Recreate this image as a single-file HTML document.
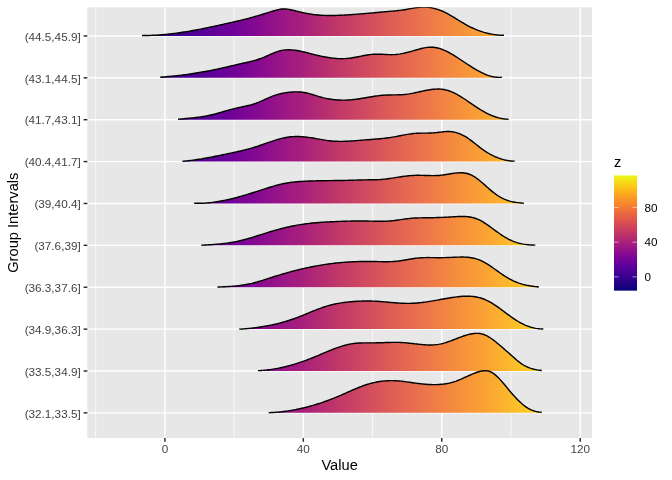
<!DOCTYPE html>
<html lang="en"><head><meta charset="utf-8"><title>Ridgeline plot</title>
<style>html,body{margin:0;padding:0;background:#fff}svg{display:block}text{font-family:"Liberation Sans",Arial,Helvetica,sans-serif}</style></head><body>
<svg width="672" height="480" viewBox="0 0 672 480">
<defs>
<linearGradient id="pg" gradientUnits="userSpaceOnUse" x1="111.37" y1="0" x2="570.99" y2="0"><stop offset="0.0000" stop-color="#070375"/><stop offset="0.0417" stop-color="#190280"/><stop offset="0.0833" stop-color="#2A028A"/><stop offset="0.1250" stop-color="#3B0191"/><stop offset="0.1667" stop-color="#4A0096"/><stop offset="0.2083" stop-color="#5B0099"/><stop offset="0.2500" stop-color="#6C0199"/><stop offset="0.2917" stop-color="#7B0595"/><stop offset="0.3333" stop-color="#8C0D8E"/><stop offset="0.3750" stop-color="#9B1785"/><stop offset="0.4167" stop-color="#A8207B"/><stop offset="0.4583" stop-color="#B62C71"/><stop offset="0.5000" stop-color="#C23A68"/><stop offset="0.5417" stop-color="#CD4761"/><stop offset="0.5833" stop-color="#D8555A"/><stop offset="0.6250" stop-color="#E16354"/><stop offset="0.6667" stop-color="#E9704E"/><stop offset="0.7083" stop-color="#F07E46"/><stop offset="0.7500" stop-color="#F58D3E"/><stop offset="0.7917" stop-color="#F99B37"/><stop offset="0.8333" stop-color="#FBAB30"/><stop offset="0.8750" stop-color="#FBBD2A"/><stop offset="0.9167" stop-color="#F9CF28"/><stop offset="0.9583" stop-color="#F3E329"/><stop offset="1.0000" stop-color="#ECF626"/></linearGradient>
<linearGradient id="lg" x1="0" y1="1" x2="0" y2="0"><stop offset="0.0000" stop-color="#070375"/><stop offset="0.0417" stop-color="#190280"/><stop offset="0.0833" stop-color="#2A028A"/><stop offset="0.1250" stop-color="#3B0191"/><stop offset="0.1667" stop-color="#4A0096"/><stop offset="0.2083" stop-color="#5B0099"/><stop offset="0.2500" stop-color="#6C0199"/><stop offset="0.2917" stop-color="#7B0595"/><stop offset="0.3333" stop-color="#8C0D8E"/><stop offset="0.3750" stop-color="#9B1785"/><stop offset="0.4167" stop-color="#A8207B"/><stop offset="0.4583" stop-color="#B52B70"/><stop offset="0.5000" stop-color="#C23665"/><stop offset="0.5417" stop-color="#CC405C"/><stop offset="0.5833" stop-color="#D74D52"/><stop offset="0.6250" stop-color="#E15A49"/><stop offset="0.6667" stop-color="#E96641"/><stop offset="0.7083" stop-color="#F17538"/><stop offset="0.7500" stop-color="#F7852F"/><stop offset="0.7917" stop-color="#FB9428"/><stop offset="0.8333" stop-color="#FDA620"/><stop offset="0.8750" stop-color="#FDBA1A"/><stop offset="0.9167" stop-color="#FACD18"/><stop offset="0.9583" stop-color="#F4E319"/><stop offset="1.0000" stop-color="#ECF715"/></linearGradient>
<clipPath id="cp"><rect x="87.3" y="7.3" width="504.7" height="430.8"/></clipPath>
</defs>
<rect width="672" height="480" fill="#fff"/>
<rect x="87.3" y="7.3" width="504.7" height="430.8" fill="#E7E7E7"/>
<g clip-path="url(#cp)">
<line x1="95.68" x2="95.68" y1="7.3" y2="438.1" stroke="#fff" stroke-width="0.71"/>
<line x1="234.12" x2="234.12" y1="7.3" y2="438.1" stroke="#fff" stroke-width="0.71"/>
<line x1="372.56" x2="372.56" y1="7.3" y2="438.1" stroke="#fff" stroke-width="0.71"/>
<line x1="511.00" x2="511.00" y1="7.3" y2="438.1" stroke="#fff" stroke-width="0.71"/>
<line x1="164.90" x2="164.90" y1="7.3" y2="438.1" stroke="#fff" stroke-width="1.42"/>
<line x1="303.34" x2="303.34" y1="7.3" y2="438.1" stroke="#fff" stroke-width="1.42"/>
<line x1="441.78" x2="441.78" y1="7.3" y2="438.1" stroke="#fff" stroke-width="1.42"/>
<line x1="580.22" x2="580.22" y1="7.3" y2="438.1" stroke="#fff" stroke-width="1.42"/>
<line x1="87.3" x2="592.0" y1="35.95" y2="35.95" stroke="#fff" stroke-width="1.42"/>
<line x1="87.3" x2="592.0" y1="77.83" y2="77.83" stroke="#fff" stroke-width="1.42"/>
<line x1="87.3" x2="592.0" y1="119.71" y2="119.71" stroke="#fff" stroke-width="1.42"/>
<line x1="87.3" x2="592.0" y1="161.59" y2="161.59" stroke="#fff" stroke-width="1.42"/>
<line x1="87.3" x2="592.0" y1="203.47" y2="203.47" stroke="#fff" stroke-width="1.42"/>
<line x1="87.3" x2="592.0" y1="245.35" y2="245.35" stroke="#fff" stroke-width="1.42"/>
<line x1="87.3" x2="592.0" y1="287.23" y2="287.23" stroke="#fff" stroke-width="1.42"/>
<line x1="87.3" x2="592.0" y1="329.11" y2="329.11" stroke="#fff" stroke-width="1.42"/>
<line x1="87.3" x2="592.0" y1="370.99" y2="370.99" stroke="#fff" stroke-width="1.42"/>
<line x1="87.3" x2="592.0" y1="412.87" y2="412.87" stroke="#fff" stroke-width="1.42"/>
<path d="M142.0,35.48 L143.5,35.49 L145.0,35.49 L146.5,35.48 L148.0,35.46 L149.5,35.43 L151.0,35.38 L152.5,35.33 L154.0,35.26 L155.5,35.19 L157.0,35.10 L158.5,35.01 L160.0,34.90 L161.5,34.79 L163.0,34.66 L164.5,34.53 L166.0,34.39 L167.5,34.24 L169.0,34.08 L170.5,33.91 L172.0,33.74 L173.5,33.56 L175.0,33.37 L176.5,33.17 L178.0,32.96 L179.5,32.75 L181.0,32.53 L182.5,32.30 L184.0,32.07 L185.5,31.83 L187.0,31.58 L188.5,31.33 L190.0,31.08 L191.5,30.81 L193.0,30.54 L194.5,30.27 L196.0,29.99 L197.5,29.71 L199.0,29.42 L200.5,29.13 L202.0,28.83 L203.5,28.53 L205.0,28.23 L206.5,27.92 L208.0,27.61 L209.5,27.30 L211.0,26.98 L212.5,26.66 L214.0,26.33 L215.5,26.01 L217.0,25.68 L218.5,25.35 L220.0,25.02 L221.5,24.69 L223.0,24.35 L224.5,24.01 L226.0,23.68 L227.5,23.34 L229.0,23.00 L230.5,22.66 L232.0,22.32 L233.5,21.98 L235.0,21.64 L236.5,21.29 L238.0,20.94 L239.5,20.59 L241.0,20.23 L242.5,19.87 L244.0,19.50 L245.5,19.13 L247.0,18.74 L248.5,18.35 L250.0,17.96 L251.5,17.55 L253.0,17.13 L254.5,16.71 L256.0,16.27 L257.5,15.83 L259.0,15.38 L260.5,14.93 L262.0,14.47 L263.5,14.01 L265.0,13.55 L266.5,13.08 L268.0,12.62 L269.5,12.15 L271.0,11.69 L272.5,11.23 L274.0,10.78 L275.5,10.34 L277.0,9.94 L278.5,9.59 L280.0,9.29 L281.5,9.07 L283.0,8.93 L284.5,8.90 L286.0,8.97 L287.5,9.14 L289.0,9.40 L290.5,9.71 L292.0,10.06 L293.5,10.42 L295.0,10.78 L296.5,11.14 L298.0,11.50 L299.5,11.85 L301.0,12.20 L302.5,12.54 L304.0,12.87 L305.5,13.19 L307.0,13.48 L308.5,13.76 L310.0,14.01 L311.5,14.24 L313.0,14.44 L314.5,14.63 L316.0,14.79 L317.5,14.94 L319.0,15.07 L320.5,15.18 L322.0,15.27 L323.5,15.34 L325.0,15.40 L326.5,15.44 L328.0,15.47 L329.5,15.48 L331.0,15.49 L332.5,15.48 L334.0,15.46 L335.5,15.42 L337.0,15.38 L338.5,15.33 L340.0,15.27 L341.5,15.20 L343.0,15.13 L344.5,15.05 L346.0,14.96 L347.5,14.87 L349.0,14.78 L350.5,14.68 L352.0,14.58 L353.5,14.47 L355.0,14.36 L356.5,14.25 L358.0,14.13 L359.5,14.01 L361.0,13.89 L362.5,13.77 L364.0,13.64 L365.5,13.51 L367.0,13.38 L368.5,13.25 L370.0,13.12 L371.5,12.98 L373.0,12.85 L374.5,12.71 L376.0,12.58 L377.5,12.44 L379.0,12.31 L380.5,12.17 L382.0,12.04 L383.5,11.90 L385.0,11.77 L386.5,11.64 L388.0,11.51 L389.5,11.38 L391.0,11.26 L392.5,11.12 L394.0,10.99 L395.5,10.84 L397.0,10.69 L398.5,10.52 L400.0,10.34 L401.5,10.14 L403.0,9.93 L404.5,9.70 L406.0,9.45 L407.5,9.19 L409.0,8.91 L410.5,8.64 L412.0,8.37 L413.5,8.11 L415.0,7.87 L416.5,7.65 L418.0,7.46 L419.5,7.30 L421.0,7.17 L422.5,7.10 L424.0,7.07 L425.5,7.10 L427.0,7.19 L428.5,7.33 L430.0,7.53 L431.5,7.78 L433.0,8.08 L434.5,8.44 L436.0,8.85 L437.5,9.32 L439.0,9.83 L440.5,10.40 L442.0,11.02 L443.5,11.68 L445.0,12.40 L446.5,13.16 L448.0,13.97 L449.5,14.80 L451.0,15.67 L452.5,16.56 L454.0,17.47 L455.5,18.39 L457.0,19.31 L458.5,20.24 L460.0,21.16 L461.5,22.07 L463.0,22.97 L464.5,23.84 L466.0,24.69 L467.5,25.51 L469.0,26.29 L470.5,27.04 L472.0,27.76 L473.5,28.44 L475.0,29.09 L476.5,29.71 L478.0,30.30 L479.5,30.85 L481.0,31.37 L482.5,31.86 L484.0,32.32 L485.5,32.74 L487.0,33.13 L488.5,33.49 L490.0,33.82 L491.5,34.11 L493.0,34.37 L494.5,34.60 L496.0,34.80 L497.5,34.96 L499.0,35.10 L500.5,35.19 L502.0,35.26 L503.5,35.30 L504.0,35.30 L504.0,35.95 L142.0,35.95 Z" fill="url(#pg)" fill-opacity="1" stroke="none"/>
<path d="M142.0,35.48 L143.5,35.49 L145.0,35.49 L146.5,35.48 L148.0,35.46 L149.5,35.43 L151.0,35.38 L152.5,35.33 L154.0,35.26 L155.5,35.19 L157.0,35.10 L158.5,35.01 L160.0,34.90 L161.5,34.79 L163.0,34.66 L164.5,34.53 L166.0,34.39 L167.5,34.24 L169.0,34.08 L170.5,33.91 L172.0,33.74 L173.5,33.56 L175.0,33.37 L176.5,33.17 L178.0,32.96 L179.5,32.75 L181.0,32.53 L182.5,32.30 L184.0,32.07 L185.5,31.83 L187.0,31.58 L188.5,31.33 L190.0,31.08 L191.5,30.81 L193.0,30.54 L194.5,30.27 L196.0,29.99 L197.5,29.71 L199.0,29.42 L200.5,29.13 L202.0,28.83 L203.5,28.53 L205.0,28.23 L206.5,27.92 L208.0,27.61 L209.5,27.30 L211.0,26.98 L212.5,26.66 L214.0,26.33 L215.5,26.01 L217.0,25.68 L218.5,25.35 L220.0,25.02 L221.5,24.69 L223.0,24.35 L224.5,24.01 L226.0,23.68 L227.5,23.34 L229.0,23.00 L230.5,22.66 L232.0,22.32 L233.5,21.98 L235.0,21.64 L236.5,21.29 L238.0,20.94 L239.5,20.59 L241.0,20.23 L242.5,19.87 L244.0,19.50 L245.5,19.13 L247.0,18.74 L248.5,18.35 L250.0,17.96 L251.5,17.55 L253.0,17.13 L254.5,16.71 L256.0,16.27 L257.5,15.83 L259.0,15.38 L260.5,14.93 L262.0,14.47 L263.5,14.01 L265.0,13.55 L266.5,13.08 L268.0,12.62 L269.5,12.15 L271.0,11.69 L272.5,11.23 L274.0,10.78 L275.5,10.34 L277.0,9.94 L278.5,9.59 L280.0,9.29 L281.5,9.07 L283.0,8.93 L284.5,8.90 L286.0,8.97 L287.5,9.14 L289.0,9.40 L290.5,9.71 L292.0,10.06 L293.5,10.42 L295.0,10.78 L296.5,11.14 L298.0,11.50 L299.5,11.85 L301.0,12.20 L302.5,12.54 L304.0,12.87 L305.5,13.19 L307.0,13.48 L308.5,13.76 L310.0,14.01 L311.5,14.24 L313.0,14.44 L314.5,14.63 L316.0,14.79 L317.5,14.94 L319.0,15.07 L320.5,15.18 L322.0,15.27 L323.5,15.34 L325.0,15.40 L326.5,15.44 L328.0,15.47 L329.5,15.48 L331.0,15.49 L332.5,15.48 L334.0,15.46 L335.5,15.42 L337.0,15.38 L338.5,15.33 L340.0,15.27 L341.5,15.20 L343.0,15.13 L344.5,15.05 L346.0,14.96 L347.5,14.87 L349.0,14.78 L350.5,14.68 L352.0,14.58 L353.5,14.47 L355.0,14.36 L356.5,14.25 L358.0,14.13 L359.5,14.01 L361.0,13.89 L362.5,13.77 L364.0,13.64 L365.5,13.51 L367.0,13.38 L368.5,13.25 L370.0,13.12 L371.5,12.98 L373.0,12.85 L374.5,12.71 L376.0,12.58 L377.5,12.44 L379.0,12.31 L380.5,12.17 L382.0,12.04 L383.5,11.90 L385.0,11.77 L386.5,11.64 L388.0,11.51 L389.5,11.38 L391.0,11.26 L392.5,11.12 L394.0,10.99 L395.5,10.84 L397.0,10.69 L398.5,10.52 L400.0,10.34 L401.5,10.14 L403.0,9.93 L404.5,9.70 L406.0,9.45 L407.5,9.19 L409.0,8.91 L410.5,8.64 L412.0,8.37 L413.5,8.11 L415.0,7.87 L416.5,7.65 L418.0,7.46 L419.5,7.30 L421.0,7.17 L422.5,7.10 L424.0,7.07 L425.5,7.10 L427.0,7.19 L428.5,7.33 L430.0,7.53 L431.5,7.78 L433.0,8.08 L434.5,8.44 L436.0,8.85 L437.5,9.32 L439.0,9.83 L440.5,10.40 L442.0,11.02 L443.5,11.68 L445.0,12.40 L446.5,13.16 L448.0,13.97 L449.5,14.80 L451.0,15.67 L452.5,16.56 L454.0,17.47 L455.5,18.39 L457.0,19.31 L458.5,20.24 L460.0,21.16 L461.5,22.07 L463.0,22.97 L464.5,23.84 L466.0,24.69 L467.5,25.51 L469.0,26.29 L470.5,27.04 L472.0,27.76 L473.5,28.44 L475.0,29.09 L476.5,29.71 L478.0,30.30 L479.5,30.85 L481.0,31.37 L482.5,31.86 L484.0,32.32 L485.5,32.74 L487.0,33.13 L488.5,33.49 L490.0,33.82 L491.5,34.11 L493.0,34.37 L494.5,34.60 L496.0,34.80 L497.5,34.96 L499.0,35.10 L500.5,35.19 L502.0,35.26 L503.5,35.30 L504.0,35.30" fill="none" stroke="#000" stroke-width="1.42" stroke-linejoin="round" stroke-linecap="butt"/>
<path d="M160.3,77.20 L161.8,77.08 L163.3,76.96 L164.8,76.84 L166.3,76.71 L167.8,76.58 L169.3,76.44 L170.8,76.30 L172.3,76.15 L173.8,76.00 L175.3,75.84 L176.8,75.68 L178.3,75.51 L179.8,75.34 L181.3,75.16 L182.8,74.97 L184.3,74.78 L185.8,74.59 L187.3,74.39 L188.8,74.18 L190.3,73.97 L191.8,73.75 L193.3,73.53 L194.8,73.30 L196.3,73.06 L197.8,72.82 L199.3,72.57 L200.8,72.32 L202.3,72.06 L203.8,71.79 L205.3,71.52 L206.8,71.24 L208.3,70.96 L209.8,70.66 L211.3,70.37 L212.8,70.06 L214.3,69.75 L215.8,69.43 L217.3,69.10 L218.8,68.77 L220.3,68.44 L221.8,68.10 L223.3,67.76 L224.8,67.42 L226.3,67.07 L227.8,66.72 L229.3,66.37 L230.8,66.02 L232.3,65.68 L233.8,65.33 L235.3,64.98 L236.8,64.64 L238.3,64.30 L239.8,63.96 L241.3,63.62 L242.8,63.29 L244.3,62.97 L245.8,62.64 L247.3,62.30 L248.8,61.96 L250.3,61.61 L251.8,61.24 L253.3,60.85 L254.8,60.44 L256.3,60.01 L257.8,59.54 L259.3,59.04 L260.8,58.51 L262.3,57.94 L263.8,57.33 L265.3,56.69 L266.8,56.02 L268.3,55.35 L269.8,54.67 L271.3,54.01 L272.8,53.36 L274.3,52.74 L275.8,52.16 L277.3,51.63 L278.8,51.16 L280.3,50.75 L281.8,50.42 L283.3,50.16 L284.8,49.98 L286.3,49.86 L287.8,49.80 L289.3,49.79 L290.8,49.84 L292.3,49.94 L293.8,50.09 L295.3,50.28 L296.8,50.50 L298.3,50.76 L299.8,51.05 L301.3,51.36 L302.8,51.70 L304.3,52.05 L305.8,52.42 L307.3,52.80 L308.8,53.19 L310.3,53.58 L311.8,53.97 L313.3,54.36 L314.8,54.73 L316.3,55.10 L317.8,55.46 L319.3,55.81 L320.8,56.14 L322.3,56.45 L323.8,56.76 L325.3,57.04 L326.8,57.31 L328.3,57.55 L329.8,57.78 L331.3,57.98 L332.8,58.16 L334.3,58.31 L335.8,58.44 L337.3,58.55 L338.8,58.62 L340.3,58.66 L341.8,58.68 L343.3,58.66 L344.8,58.61 L346.3,58.52 L347.8,58.40 L349.3,58.24 L350.8,58.05 L352.3,57.82 L353.8,57.57 L355.3,57.30 L356.8,57.01 L358.3,56.72 L359.8,56.42 L361.3,56.11 L362.8,55.82 L364.3,55.53 L365.8,55.26 L367.3,55.00 L368.8,54.77 L370.3,54.58 L371.8,54.41 L373.3,54.29 L374.8,54.21 L376.3,54.18 L377.8,54.18 L379.3,54.21 L380.8,54.26 L382.3,54.33 L383.8,54.41 L385.3,54.49 L386.8,54.56 L388.3,54.62 L389.8,54.66 L391.3,54.67 L392.8,54.65 L394.3,54.59 L395.8,54.48 L397.3,54.33 L398.8,54.14 L400.3,53.91 L401.8,53.64 L403.3,53.35 L404.8,53.03 L406.3,52.68 L407.8,52.31 L409.3,51.92 L410.8,51.51 L412.3,51.09 L413.8,50.66 L415.3,50.23 L416.8,49.79 L418.3,49.36 L419.8,48.95 L421.3,48.56 L422.8,48.21 L424.3,47.89 L425.8,47.62 L427.3,47.41 L428.8,47.26 L430.3,47.18 L431.8,47.18 L433.3,47.27 L434.8,47.44 L436.3,47.70 L437.8,48.03 L439.3,48.44 L440.8,48.92 L442.3,49.46 L443.8,50.06 L445.3,50.72 L446.8,51.43 L448.3,52.20 L449.8,53.00 L451.3,53.84 L452.8,54.72 L454.3,55.63 L455.8,56.56 L457.3,57.52 L458.8,58.50 L460.3,59.48 L461.8,60.48 L463.3,61.48 L464.8,62.49 L466.3,63.48 L467.8,64.47 L469.3,65.45 L470.8,66.42 L472.3,67.36 L473.8,68.29 L475.3,69.18 L476.8,70.05 L478.3,70.89 L479.8,71.69 L481.3,72.46 L482.8,73.18 L484.3,73.86 L485.8,74.48 L487.3,75.06 L488.8,75.58 L490.3,76.04 L491.8,76.44 L493.3,76.77 L494.8,77.03 L496.3,77.22 L497.8,77.33 L499.3,77.37 L500.8,77.32 L501.8,77.24 L501.8,77.83 L160.3,77.83 Z" fill="url(#pg)" fill-opacity="1" stroke="none"/>
<path d="M160.3,77.20 L161.8,77.08 L163.3,76.96 L164.8,76.84 L166.3,76.71 L167.8,76.58 L169.3,76.44 L170.8,76.30 L172.3,76.15 L173.8,76.00 L175.3,75.84 L176.8,75.68 L178.3,75.51 L179.8,75.34 L181.3,75.16 L182.8,74.97 L184.3,74.78 L185.8,74.59 L187.3,74.39 L188.8,74.18 L190.3,73.97 L191.8,73.75 L193.3,73.53 L194.8,73.30 L196.3,73.06 L197.8,72.82 L199.3,72.57 L200.8,72.32 L202.3,72.06 L203.8,71.79 L205.3,71.52 L206.8,71.24 L208.3,70.96 L209.8,70.66 L211.3,70.37 L212.8,70.06 L214.3,69.75 L215.8,69.43 L217.3,69.10 L218.8,68.77 L220.3,68.44 L221.8,68.10 L223.3,67.76 L224.8,67.42 L226.3,67.07 L227.8,66.72 L229.3,66.37 L230.8,66.02 L232.3,65.68 L233.8,65.33 L235.3,64.98 L236.8,64.64 L238.3,64.30 L239.8,63.96 L241.3,63.62 L242.8,63.29 L244.3,62.97 L245.8,62.64 L247.3,62.30 L248.8,61.96 L250.3,61.61 L251.8,61.24 L253.3,60.85 L254.8,60.44 L256.3,60.01 L257.8,59.54 L259.3,59.04 L260.8,58.51 L262.3,57.94 L263.8,57.33 L265.3,56.69 L266.8,56.02 L268.3,55.35 L269.8,54.67 L271.3,54.01 L272.8,53.36 L274.3,52.74 L275.8,52.16 L277.3,51.63 L278.8,51.16 L280.3,50.75 L281.8,50.42 L283.3,50.16 L284.8,49.98 L286.3,49.86 L287.8,49.80 L289.3,49.79 L290.8,49.84 L292.3,49.94 L293.8,50.09 L295.3,50.28 L296.8,50.50 L298.3,50.76 L299.8,51.05 L301.3,51.36 L302.8,51.70 L304.3,52.05 L305.8,52.42 L307.3,52.80 L308.8,53.19 L310.3,53.58 L311.8,53.97 L313.3,54.36 L314.8,54.73 L316.3,55.10 L317.8,55.46 L319.3,55.81 L320.8,56.14 L322.3,56.45 L323.8,56.76 L325.3,57.04 L326.8,57.31 L328.3,57.55 L329.8,57.78 L331.3,57.98 L332.8,58.16 L334.3,58.31 L335.8,58.44 L337.3,58.55 L338.8,58.62 L340.3,58.66 L341.8,58.68 L343.3,58.66 L344.8,58.61 L346.3,58.52 L347.8,58.40 L349.3,58.24 L350.8,58.05 L352.3,57.82 L353.8,57.57 L355.3,57.30 L356.8,57.01 L358.3,56.72 L359.8,56.42 L361.3,56.11 L362.8,55.82 L364.3,55.53 L365.8,55.26 L367.3,55.00 L368.8,54.77 L370.3,54.58 L371.8,54.41 L373.3,54.29 L374.8,54.21 L376.3,54.18 L377.8,54.18 L379.3,54.21 L380.8,54.26 L382.3,54.33 L383.8,54.41 L385.3,54.49 L386.8,54.56 L388.3,54.62 L389.8,54.66 L391.3,54.67 L392.8,54.65 L394.3,54.59 L395.8,54.48 L397.3,54.33 L398.8,54.14 L400.3,53.91 L401.8,53.64 L403.3,53.35 L404.8,53.03 L406.3,52.68 L407.8,52.31 L409.3,51.92 L410.8,51.51 L412.3,51.09 L413.8,50.66 L415.3,50.23 L416.8,49.79 L418.3,49.36 L419.8,48.95 L421.3,48.56 L422.8,48.21 L424.3,47.89 L425.8,47.62 L427.3,47.41 L428.8,47.26 L430.3,47.18 L431.8,47.18 L433.3,47.27 L434.8,47.44 L436.3,47.70 L437.8,48.03 L439.3,48.44 L440.8,48.92 L442.3,49.46 L443.8,50.06 L445.3,50.72 L446.8,51.43 L448.3,52.20 L449.8,53.00 L451.3,53.84 L452.8,54.72 L454.3,55.63 L455.8,56.56 L457.3,57.52 L458.8,58.50 L460.3,59.48 L461.8,60.48 L463.3,61.48 L464.8,62.49 L466.3,63.48 L467.8,64.47 L469.3,65.45 L470.8,66.42 L472.3,67.36 L473.8,68.29 L475.3,69.18 L476.8,70.05 L478.3,70.89 L479.8,71.69 L481.3,72.46 L482.8,73.18 L484.3,73.86 L485.8,74.48 L487.3,75.06 L488.8,75.58 L490.3,76.04 L491.8,76.44 L493.3,76.77 L494.8,77.03 L496.3,77.22 L497.8,77.33 L499.3,77.37 L500.8,77.32 L501.8,77.24" fill="none" stroke="#000" stroke-width="1.42" stroke-linejoin="round" stroke-linecap="butt"/>
<path d="M178.0,119.30 L179.5,119.15 L181.0,119.00 L182.5,118.86 L184.0,118.72 L185.5,118.58 L187.0,118.44 L188.5,118.29 L190.0,118.15 L191.5,118.00 L193.0,117.84 L194.5,117.68 L196.0,117.50 L197.5,117.32 L199.0,117.12 L200.5,116.91 L202.0,116.69 L203.5,116.45 L205.0,116.19 L206.5,115.92 L208.0,115.62 L209.5,115.31 L211.0,114.97 L212.5,114.60 L214.0,114.22 L215.5,113.83 L217.0,113.42 L218.5,113.00 L220.0,112.58 L221.5,112.15 L223.0,111.72 L224.5,111.29 L226.0,110.87 L227.5,110.45 L229.0,110.05 L230.5,109.65 L232.0,109.26 L233.5,108.88 L235.0,108.51 L236.5,108.15 L238.0,107.79 L239.5,107.45 L241.0,107.11 L242.5,106.77 L244.0,106.44 L245.5,106.12 L247.0,105.79 L248.5,105.45 L250.0,105.09 L251.5,104.70 L253.0,104.27 L254.5,103.80 L256.0,103.28 L257.5,102.71 L259.0,102.10 L260.5,101.45 L262.0,100.79 L263.5,100.11 L265.0,99.42 L266.5,98.74 L268.0,98.07 L269.5,97.41 L271.0,96.79 L272.5,96.20 L274.0,95.65 L275.5,95.14 L277.0,94.68 L278.5,94.25 L280.0,93.86 L281.5,93.50 L283.0,93.18 L284.5,92.90 L286.0,92.65 L287.5,92.43 L289.0,92.25 L290.5,92.10 L292.0,91.98 L293.5,91.89 L295.0,91.85 L296.5,91.84 L298.0,91.87 L299.5,91.95 L301.0,92.07 L302.5,92.24 L304.0,92.46 L305.5,92.73 L307.0,93.06 L308.5,93.42 L310.0,93.83 L311.5,94.26 L313.0,94.71 L314.5,95.18 L316.0,95.65 L317.5,96.12 L319.0,96.58 L320.5,97.02 L322.0,97.44 L323.5,97.83 L325.0,98.18 L326.5,98.51 L328.0,98.80 L329.5,99.06 L331.0,99.29 L332.5,99.49 L334.0,99.67 L335.5,99.81 L337.0,99.93 L338.5,100.02 L340.0,100.08 L341.5,100.12 L343.0,100.13 L344.5,100.12 L346.0,100.09 L347.5,100.03 L349.0,99.94 L350.5,99.84 L352.0,99.71 L353.5,99.56 L355.0,99.40 L356.5,99.21 L358.0,99.00 L359.5,98.78 L361.0,98.54 L362.5,98.30 L364.0,98.05 L365.5,97.79 L367.0,97.53 L368.5,97.26 L370.0,97.01 L371.5,96.75 L373.0,96.50 L374.5,96.27 L376.0,96.04 L377.5,95.83 L379.0,95.64 L380.5,95.47 L382.0,95.32 L383.5,95.20 L385.0,95.10 L386.5,95.03 L388.0,94.98 L389.5,94.95 L391.0,94.92 L392.5,94.91 L394.0,94.90 L395.5,94.88 L397.0,94.86 L398.5,94.83 L400.0,94.78 L401.5,94.71 L403.0,94.62 L404.5,94.49 L406.0,94.34 L407.5,94.14 L409.0,93.92 L410.5,93.66 L412.0,93.39 L413.5,93.09 L415.0,92.77 L416.5,92.45 L418.0,92.12 L419.5,91.78 L421.0,91.45 L422.5,91.12 L424.0,90.80 L425.5,90.49 L427.0,90.21 L428.5,89.94 L430.0,89.71 L431.5,89.50 L433.0,89.33 L434.5,89.20 L436.0,89.11 L437.5,89.07 L439.0,89.08 L440.5,89.15 L442.0,89.28 L443.5,89.47 L445.0,89.73 L446.5,90.07 L448.0,90.48 L449.5,90.97 L451.0,91.54 L452.5,92.17 L454.0,92.86 L455.5,93.61 L457.0,94.41 L458.5,95.26 L460.0,96.14 L461.5,97.07 L463.0,98.02 L464.5,99.00 L466.0,100.01 L467.5,101.02 L469.0,102.05 L470.5,103.08 L472.0,104.11 L473.5,105.14 L475.0,106.15 L476.5,107.15 L478.0,108.13 L479.5,109.08 L481.0,110.00 L482.5,110.89 L484.0,111.74 L485.5,112.55 L487.0,113.32 L488.5,114.05 L490.0,114.74 L491.5,115.38 L493.0,115.98 L494.5,116.53 L496.0,117.03 L497.5,117.49 L499.0,117.89 L500.5,118.25 L502.0,118.55 L503.5,118.79 L505.0,118.98 L506.5,119.12 L508.0,119.19 L508.5,119.20 L508.5,119.71 L178.0,119.71 Z" fill="url(#pg)" fill-opacity="1" stroke="none"/>
<path d="M178.0,119.30 L179.5,119.15 L181.0,119.00 L182.5,118.86 L184.0,118.72 L185.5,118.58 L187.0,118.44 L188.5,118.29 L190.0,118.15 L191.5,118.00 L193.0,117.84 L194.5,117.68 L196.0,117.50 L197.5,117.32 L199.0,117.12 L200.5,116.91 L202.0,116.69 L203.5,116.45 L205.0,116.19 L206.5,115.92 L208.0,115.62 L209.5,115.31 L211.0,114.97 L212.5,114.60 L214.0,114.22 L215.5,113.83 L217.0,113.42 L218.5,113.00 L220.0,112.58 L221.5,112.15 L223.0,111.72 L224.5,111.29 L226.0,110.87 L227.5,110.45 L229.0,110.05 L230.5,109.65 L232.0,109.26 L233.5,108.88 L235.0,108.51 L236.5,108.15 L238.0,107.79 L239.5,107.45 L241.0,107.11 L242.5,106.77 L244.0,106.44 L245.5,106.12 L247.0,105.79 L248.5,105.45 L250.0,105.09 L251.5,104.70 L253.0,104.27 L254.5,103.80 L256.0,103.28 L257.5,102.71 L259.0,102.10 L260.5,101.45 L262.0,100.79 L263.5,100.11 L265.0,99.42 L266.5,98.74 L268.0,98.07 L269.5,97.41 L271.0,96.79 L272.5,96.20 L274.0,95.65 L275.5,95.14 L277.0,94.68 L278.5,94.25 L280.0,93.86 L281.5,93.50 L283.0,93.18 L284.5,92.90 L286.0,92.65 L287.5,92.43 L289.0,92.25 L290.5,92.10 L292.0,91.98 L293.5,91.89 L295.0,91.85 L296.5,91.84 L298.0,91.87 L299.5,91.95 L301.0,92.07 L302.5,92.24 L304.0,92.46 L305.5,92.73 L307.0,93.06 L308.5,93.42 L310.0,93.83 L311.5,94.26 L313.0,94.71 L314.5,95.18 L316.0,95.65 L317.5,96.12 L319.0,96.58 L320.5,97.02 L322.0,97.44 L323.5,97.83 L325.0,98.18 L326.5,98.51 L328.0,98.80 L329.5,99.06 L331.0,99.29 L332.5,99.49 L334.0,99.67 L335.5,99.81 L337.0,99.93 L338.5,100.02 L340.0,100.08 L341.5,100.12 L343.0,100.13 L344.5,100.12 L346.0,100.09 L347.5,100.03 L349.0,99.94 L350.5,99.84 L352.0,99.71 L353.5,99.56 L355.0,99.40 L356.5,99.21 L358.0,99.00 L359.5,98.78 L361.0,98.54 L362.5,98.30 L364.0,98.05 L365.5,97.79 L367.0,97.53 L368.5,97.26 L370.0,97.01 L371.5,96.75 L373.0,96.50 L374.5,96.27 L376.0,96.04 L377.5,95.83 L379.0,95.64 L380.5,95.47 L382.0,95.32 L383.5,95.20 L385.0,95.10 L386.5,95.03 L388.0,94.98 L389.5,94.95 L391.0,94.92 L392.5,94.91 L394.0,94.90 L395.5,94.88 L397.0,94.86 L398.5,94.83 L400.0,94.78 L401.5,94.71 L403.0,94.62 L404.5,94.49 L406.0,94.34 L407.5,94.14 L409.0,93.92 L410.5,93.66 L412.0,93.39 L413.5,93.09 L415.0,92.77 L416.5,92.45 L418.0,92.12 L419.5,91.78 L421.0,91.45 L422.5,91.12 L424.0,90.80 L425.5,90.49 L427.0,90.21 L428.5,89.94 L430.0,89.71 L431.5,89.50 L433.0,89.33 L434.5,89.20 L436.0,89.11 L437.5,89.07 L439.0,89.08 L440.5,89.15 L442.0,89.28 L443.5,89.47 L445.0,89.73 L446.5,90.07 L448.0,90.48 L449.5,90.97 L451.0,91.54 L452.5,92.17 L454.0,92.86 L455.5,93.61 L457.0,94.41 L458.5,95.26 L460.0,96.14 L461.5,97.07 L463.0,98.02 L464.5,99.00 L466.0,100.01 L467.5,101.02 L469.0,102.05 L470.5,103.08 L472.0,104.11 L473.5,105.14 L475.0,106.15 L476.5,107.15 L478.0,108.13 L479.5,109.08 L481.0,110.00 L482.5,110.89 L484.0,111.74 L485.5,112.55 L487.0,113.32 L488.5,114.05 L490.0,114.74 L491.5,115.38 L493.0,115.98 L494.5,116.53 L496.0,117.03 L497.5,117.49 L499.0,117.89 L500.5,118.25 L502.0,118.55 L503.5,118.79 L505.0,118.98 L506.5,119.12 L508.0,119.19 L508.5,119.20" fill="none" stroke="#000" stroke-width="1.42" stroke-linejoin="round" stroke-linecap="butt"/>
<path d="M182.5,161.22 L184.0,161.11 L185.5,161.00 L187.0,160.86 L188.5,160.71 L190.0,160.55 L191.5,160.38 L193.0,160.19 L194.5,159.99 L196.0,159.78 L197.5,159.56 L199.0,159.32 L200.5,159.08 L202.0,158.83 L203.5,158.57 L205.0,158.31 L206.5,158.03 L208.0,157.75 L209.5,157.46 L211.0,157.17 L212.5,156.88 L214.0,156.57 L215.5,156.27 L217.0,155.96 L218.5,155.65 L220.0,155.34 L221.5,155.03 L223.0,154.71 L224.5,154.40 L226.0,154.08 L227.5,153.77 L229.0,153.46 L230.5,153.14 L232.0,152.83 L233.5,152.51 L235.0,152.19 L236.5,151.87 L238.0,151.54 L239.5,151.20 L241.0,150.86 L242.5,150.51 L244.0,150.15 L245.5,149.78 L247.0,149.39 L248.5,149.00 L250.0,148.59 L251.5,148.16 L253.0,147.72 L254.5,147.26 L256.0,146.79 L257.5,146.30 L259.0,145.79 L260.5,145.28 L262.0,144.76 L263.5,144.23 L265.0,143.69 L266.5,143.16 L268.0,142.63 L269.5,142.11 L271.0,141.59 L272.5,141.09 L274.0,140.59 L275.5,140.12 L277.0,139.66 L278.5,139.22 L280.0,138.81 L281.5,138.42 L283.0,138.07 L284.5,137.74 L286.0,137.45 L287.5,137.20 L289.0,136.99 L290.5,136.82 L292.0,136.69 L293.5,136.60 L295.0,136.54 L296.5,136.52 L298.0,136.54 L299.5,136.58 L301.0,136.65 L302.5,136.75 L304.0,136.88 L305.5,137.03 L307.0,137.20 L308.5,137.39 L310.0,137.60 L311.5,137.82 L313.0,138.06 L314.5,138.31 L316.0,138.58 L317.5,138.84 L319.0,139.11 L320.5,139.38 L322.0,139.65 L323.5,139.91 L325.0,140.15 L326.5,140.38 L328.0,140.59 L329.5,140.78 L331.0,140.94 L332.5,141.08 L334.0,141.18 L335.5,141.27 L337.0,141.33 L338.5,141.36 L340.0,141.38 L341.5,141.38 L343.0,141.36 L344.5,141.32 L346.0,141.27 L347.5,141.21 L349.0,141.13 L350.5,141.04 L352.0,140.95 L353.5,140.84 L355.0,140.73 L356.5,140.62 L358.0,140.50 L359.5,140.38 L361.0,140.26 L362.5,140.13 L364.0,140.02 L365.5,139.90 L367.0,139.78 L368.5,139.67 L370.0,139.56 L371.5,139.44 L373.0,139.33 L374.5,139.21 L376.0,139.08 L377.5,138.95 L379.0,138.82 L380.5,138.68 L382.0,138.53 L383.5,138.37 L385.0,138.20 L386.5,138.01 L388.0,137.82 L389.5,137.61 L391.0,137.39 L392.5,137.15 L394.0,136.90 L395.5,136.63 L397.0,136.35 L398.5,136.06 L400.0,135.76 L401.5,135.46 L403.0,135.16 L404.5,134.88 L406.0,134.60 L407.5,134.33 L409.0,134.09 L410.5,133.87 L412.0,133.68 L413.5,133.51 L415.0,133.39 L416.5,133.29 L418.0,133.22 L419.5,133.18 L421.0,133.15 L422.5,133.13 L424.0,133.12 L425.5,133.11 L427.0,133.10 L428.5,133.07 L430.0,133.03 L431.5,132.97 L433.0,132.89 L434.5,132.77 L436.0,132.62 L437.5,132.45 L439.0,132.27 L440.5,132.09 L442.0,131.92 L443.5,131.76 L445.0,131.64 L446.5,131.56 L448.0,131.52 L449.5,131.55 L451.0,131.65 L452.5,131.82 L454.0,132.08 L455.5,132.41 L457.0,132.82 L458.5,133.31 L460.0,133.89 L461.5,134.54 L463.0,135.27 L464.5,136.08 L466.0,136.97 L467.5,137.93 L469.0,138.97 L470.5,140.05 L472.0,141.18 L473.5,142.35 L475.0,143.53 L476.5,144.72 L478.0,145.90 L479.5,147.07 L481.0,148.21 L482.5,149.32 L484.0,150.38 L485.5,151.38 L487.0,152.34 L488.5,153.24 L490.0,154.10 L491.5,154.91 L493.0,155.67 L494.5,156.37 L496.0,157.03 L497.5,157.64 L499.0,158.20 L500.5,158.71 L502.0,159.17 L503.5,159.59 L505.0,159.95 L506.5,160.27 L508.0,160.53 L509.5,160.75 L511.0,160.92 L512.5,161.04 L514.0,161.12 L514.7,161.14 L514.7,161.59 L182.5,161.59 Z" fill="url(#pg)" fill-opacity="1" stroke="none"/>
<path d="M182.5,161.22 L184.0,161.11 L185.5,161.00 L187.0,160.86 L188.5,160.71 L190.0,160.55 L191.5,160.38 L193.0,160.19 L194.5,159.99 L196.0,159.78 L197.5,159.56 L199.0,159.32 L200.5,159.08 L202.0,158.83 L203.5,158.57 L205.0,158.31 L206.5,158.03 L208.0,157.75 L209.5,157.46 L211.0,157.17 L212.5,156.88 L214.0,156.57 L215.5,156.27 L217.0,155.96 L218.5,155.65 L220.0,155.34 L221.5,155.03 L223.0,154.71 L224.5,154.40 L226.0,154.08 L227.5,153.77 L229.0,153.46 L230.5,153.14 L232.0,152.83 L233.5,152.51 L235.0,152.19 L236.5,151.87 L238.0,151.54 L239.5,151.20 L241.0,150.86 L242.5,150.51 L244.0,150.15 L245.5,149.78 L247.0,149.39 L248.5,149.00 L250.0,148.59 L251.5,148.16 L253.0,147.72 L254.5,147.26 L256.0,146.79 L257.5,146.30 L259.0,145.79 L260.5,145.28 L262.0,144.76 L263.5,144.23 L265.0,143.69 L266.5,143.16 L268.0,142.63 L269.5,142.11 L271.0,141.59 L272.5,141.09 L274.0,140.59 L275.5,140.12 L277.0,139.66 L278.5,139.22 L280.0,138.81 L281.5,138.42 L283.0,138.07 L284.5,137.74 L286.0,137.45 L287.5,137.20 L289.0,136.99 L290.5,136.82 L292.0,136.69 L293.5,136.60 L295.0,136.54 L296.5,136.52 L298.0,136.54 L299.5,136.58 L301.0,136.65 L302.5,136.75 L304.0,136.88 L305.5,137.03 L307.0,137.20 L308.5,137.39 L310.0,137.60 L311.5,137.82 L313.0,138.06 L314.5,138.31 L316.0,138.58 L317.5,138.84 L319.0,139.11 L320.5,139.38 L322.0,139.65 L323.5,139.91 L325.0,140.15 L326.5,140.38 L328.0,140.59 L329.5,140.78 L331.0,140.94 L332.5,141.08 L334.0,141.18 L335.5,141.27 L337.0,141.33 L338.5,141.36 L340.0,141.38 L341.5,141.38 L343.0,141.36 L344.5,141.32 L346.0,141.27 L347.5,141.21 L349.0,141.13 L350.5,141.04 L352.0,140.95 L353.5,140.84 L355.0,140.73 L356.5,140.62 L358.0,140.50 L359.5,140.38 L361.0,140.26 L362.5,140.13 L364.0,140.02 L365.5,139.90 L367.0,139.78 L368.5,139.67 L370.0,139.56 L371.5,139.44 L373.0,139.33 L374.5,139.21 L376.0,139.08 L377.5,138.95 L379.0,138.82 L380.5,138.68 L382.0,138.53 L383.5,138.37 L385.0,138.20 L386.5,138.01 L388.0,137.82 L389.5,137.61 L391.0,137.39 L392.5,137.15 L394.0,136.90 L395.5,136.63 L397.0,136.35 L398.5,136.06 L400.0,135.76 L401.5,135.46 L403.0,135.16 L404.5,134.88 L406.0,134.60 L407.5,134.33 L409.0,134.09 L410.5,133.87 L412.0,133.68 L413.5,133.51 L415.0,133.39 L416.5,133.29 L418.0,133.22 L419.5,133.18 L421.0,133.15 L422.5,133.13 L424.0,133.12 L425.5,133.11 L427.0,133.10 L428.5,133.07 L430.0,133.03 L431.5,132.97 L433.0,132.89 L434.5,132.77 L436.0,132.62 L437.5,132.45 L439.0,132.27 L440.5,132.09 L442.0,131.92 L443.5,131.76 L445.0,131.64 L446.5,131.56 L448.0,131.52 L449.5,131.55 L451.0,131.65 L452.5,131.82 L454.0,132.08 L455.5,132.41 L457.0,132.82 L458.5,133.31 L460.0,133.89 L461.5,134.54 L463.0,135.27 L464.5,136.08 L466.0,136.97 L467.5,137.93 L469.0,138.97 L470.5,140.05 L472.0,141.18 L473.5,142.35 L475.0,143.53 L476.5,144.72 L478.0,145.90 L479.5,147.07 L481.0,148.21 L482.5,149.32 L484.0,150.38 L485.5,151.38 L487.0,152.34 L488.5,153.24 L490.0,154.10 L491.5,154.91 L493.0,155.67 L494.5,156.37 L496.0,157.03 L497.5,157.64 L499.0,158.20 L500.5,158.71 L502.0,159.17 L503.5,159.59 L505.0,159.95 L506.5,160.27 L508.0,160.53 L509.5,160.75 L511.0,160.92 L512.5,161.04 L514.0,161.12 L514.7,161.14" fill="none" stroke="#000" stroke-width="1.42" stroke-linejoin="round" stroke-linecap="butt"/>
<path d="M194.2,203.18 L195.7,203.23 L197.2,203.26 L198.7,203.27 L200.2,203.26 L201.7,203.22 L203.2,203.17 L204.7,203.09 L206.2,202.99 L207.7,202.88 L209.2,202.74 L210.7,202.59 L212.2,202.41 L213.7,202.22 L215.2,202.02 L216.7,201.79 L218.2,201.55 L219.7,201.30 L221.2,201.02 L222.7,200.74 L224.2,200.44 L225.7,200.13 L227.2,199.80 L228.7,199.46 L230.2,199.11 L231.7,198.75 L233.2,198.38 L234.7,198.00 L236.2,197.60 L237.7,197.20 L239.2,196.79 L240.7,196.37 L242.2,195.94 L243.7,195.51 L245.2,195.06 L246.7,194.62 L248.2,194.16 L249.7,193.70 L251.2,193.24 L252.7,192.77 L254.2,192.30 L255.7,191.82 L257.2,191.34 L258.7,190.86 L260.2,190.38 L261.7,189.89 L263.2,189.41 L264.7,188.92 L266.2,188.44 L267.7,187.96 L269.2,187.49 L270.7,187.02 L272.2,186.56 L273.7,186.12 L275.2,185.69 L276.7,185.27 L278.2,184.87 L279.7,184.49 L281.2,184.13 L282.7,183.79 L284.2,183.48 L285.7,183.20 L287.2,182.94 L288.7,182.70 L290.2,182.49 L291.7,182.30 L293.2,182.12 L294.7,181.96 L296.2,181.81 L297.7,181.68 L299.2,181.56 L300.7,181.45 L302.2,181.35 L303.7,181.27 L305.2,181.19 L306.7,181.12 L308.2,181.06 L309.7,181.01 L311.2,180.96 L312.7,180.92 L314.2,180.89 L315.7,180.85 L317.2,180.82 L318.7,180.80 L320.2,180.77 L321.7,180.75 L323.2,180.72 L324.7,180.70 L326.2,180.68 L327.7,180.66 L329.2,180.64 L330.7,180.62 L332.2,180.60 L333.7,180.58 L335.2,180.56 L336.7,180.54 L338.2,180.52 L339.7,180.50 L341.2,180.47 L342.7,180.44 L344.2,180.42 L345.7,180.38 L347.2,180.35 L348.7,180.31 L350.2,180.27 L351.7,180.23 L353.2,180.19 L354.7,180.14 L356.2,180.09 L357.7,180.05 L359.2,180.00 L360.7,179.96 L362.2,179.92 L363.7,179.89 L365.2,179.86 L366.7,179.85 L368.2,179.83 L369.7,179.83 L371.2,179.82 L372.7,179.81 L374.2,179.80 L375.7,179.77 L377.2,179.73 L378.7,179.66 L380.2,179.58 L381.7,179.46 L383.2,179.32 L384.7,179.16 L386.2,178.98 L387.7,178.78 L389.2,178.57 L390.7,178.35 L392.2,178.12 L393.7,177.89 L395.2,177.65 L396.7,177.41 L398.2,177.17 L399.7,176.94 L401.2,176.72 L402.7,176.50 L404.2,176.30 L405.7,176.11 L407.2,175.93 L408.7,175.77 L410.2,175.63 L411.7,175.52 L413.2,175.43 L414.7,175.37 L416.2,175.33 L417.7,175.32 L419.2,175.32 L420.7,175.34 L422.2,175.37 L423.7,175.41 L425.2,175.46 L426.7,175.50 L428.2,175.54 L429.7,175.58 L431.2,175.60 L432.7,175.61 L434.2,175.60 L435.7,175.57 L437.2,175.51 L438.7,175.42 L440.2,175.30 L441.7,175.14 L443.2,174.95 L444.7,174.73 L446.2,174.50 L447.7,174.25 L449.2,174.00 L450.7,173.75 L452.2,173.52 L453.7,173.30 L455.2,173.11 L456.7,172.96 L458.2,172.84 L459.7,172.78 L461.2,172.77 L462.7,172.82 L464.2,172.96 L465.7,173.19 L467.2,173.52 L468.7,173.97 L470.2,174.53 L471.7,175.22 L473.2,176.01 L474.7,176.93 L476.2,177.95 L477.7,179.06 L479.2,180.24 L480.7,181.49 L482.2,182.77 L483.7,184.08 L485.2,185.40 L486.7,186.73 L488.2,188.05 L489.7,189.35 L491.2,190.63 L492.7,191.86 L494.2,193.05 L495.7,194.19 L497.2,195.25 L498.7,196.23 L500.2,197.13 L501.7,197.95 L503.2,198.68 L504.7,199.34 L506.2,199.93 L507.7,200.45 L509.2,200.92 L510.7,201.32 L512.2,201.68 L513.7,201.98 L515.2,202.25 L516.7,202.48 L518.2,202.67 L519.7,202.84 L521.2,202.98 L522.7,203.10 L523.8,203.19 L523.8,203.47 L194.2,203.47 Z" fill="url(#pg)" fill-opacity="1" stroke="none"/>
<path d="M194.2,203.18 L195.7,203.23 L197.2,203.26 L198.7,203.27 L200.2,203.26 L201.7,203.22 L203.2,203.17 L204.7,203.09 L206.2,202.99 L207.7,202.88 L209.2,202.74 L210.7,202.59 L212.2,202.41 L213.7,202.22 L215.2,202.02 L216.7,201.79 L218.2,201.55 L219.7,201.30 L221.2,201.02 L222.7,200.74 L224.2,200.44 L225.7,200.13 L227.2,199.80 L228.7,199.46 L230.2,199.11 L231.7,198.75 L233.2,198.38 L234.7,198.00 L236.2,197.60 L237.7,197.20 L239.2,196.79 L240.7,196.37 L242.2,195.94 L243.7,195.51 L245.2,195.06 L246.7,194.62 L248.2,194.16 L249.7,193.70 L251.2,193.24 L252.7,192.77 L254.2,192.30 L255.7,191.82 L257.2,191.34 L258.7,190.86 L260.2,190.38 L261.7,189.89 L263.2,189.41 L264.7,188.92 L266.2,188.44 L267.7,187.96 L269.2,187.49 L270.7,187.02 L272.2,186.56 L273.7,186.12 L275.2,185.69 L276.7,185.27 L278.2,184.87 L279.7,184.49 L281.2,184.13 L282.7,183.79 L284.2,183.48 L285.7,183.20 L287.2,182.94 L288.7,182.70 L290.2,182.49 L291.7,182.30 L293.2,182.12 L294.7,181.96 L296.2,181.81 L297.7,181.68 L299.2,181.56 L300.7,181.45 L302.2,181.35 L303.7,181.27 L305.2,181.19 L306.7,181.12 L308.2,181.06 L309.7,181.01 L311.2,180.96 L312.7,180.92 L314.2,180.89 L315.7,180.85 L317.2,180.82 L318.7,180.80 L320.2,180.77 L321.7,180.75 L323.2,180.72 L324.7,180.70 L326.2,180.68 L327.7,180.66 L329.2,180.64 L330.7,180.62 L332.2,180.60 L333.7,180.58 L335.2,180.56 L336.7,180.54 L338.2,180.52 L339.7,180.50 L341.2,180.47 L342.7,180.44 L344.2,180.42 L345.7,180.38 L347.2,180.35 L348.7,180.31 L350.2,180.27 L351.7,180.23 L353.2,180.19 L354.7,180.14 L356.2,180.09 L357.7,180.05 L359.2,180.00 L360.7,179.96 L362.2,179.92 L363.7,179.89 L365.2,179.86 L366.7,179.85 L368.2,179.83 L369.7,179.83 L371.2,179.82 L372.7,179.81 L374.2,179.80 L375.7,179.77 L377.2,179.73 L378.7,179.66 L380.2,179.58 L381.7,179.46 L383.2,179.32 L384.7,179.16 L386.2,178.98 L387.7,178.78 L389.2,178.57 L390.7,178.35 L392.2,178.12 L393.7,177.89 L395.2,177.65 L396.7,177.41 L398.2,177.17 L399.7,176.94 L401.2,176.72 L402.7,176.50 L404.2,176.30 L405.7,176.11 L407.2,175.93 L408.7,175.77 L410.2,175.63 L411.7,175.52 L413.2,175.43 L414.7,175.37 L416.2,175.33 L417.7,175.32 L419.2,175.32 L420.7,175.34 L422.2,175.37 L423.7,175.41 L425.2,175.46 L426.7,175.50 L428.2,175.54 L429.7,175.58 L431.2,175.60 L432.7,175.61 L434.2,175.60 L435.7,175.57 L437.2,175.51 L438.7,175.42 L440.2,175.30 L441.7,175.14 L443.2,174.95 L444.7,174.73 L446.2,174.50 L447.7,174.25 L449.2,174.00 L450.7,173.75 L452.2,173.52 L453.7,173.30 L455.2,173.11 L456.7,172.96 L458.2,172.84 L459.7,172.78 L461.2,172.77 L462.7,172.82 L464.2,172.96 L465.7,173.19 L467.2,173.52 L468.7,173.97 L470.2,174.53 L471.7,175.22 L473.2,176.01 L474.7,176.93 L476.2,177.95 L477.7,179.06 L479.2,180.24 L480.7,181.49 L482.2,182.77 L483.7,184.08 L485.2,185.40 L486.7,186.73 L488.2,188.05 L489.7,189.35 L491.2,190.63 L492.7,191.86 L494.2,193.05 L495.7,194.19 L497.2,195.25 L498.7,196.23 L500.2,197.13 L501.7,197.95 L503.2,198.68 L504.7,199.34 L506.2,199.93 L507.7,200.45 L509.2,200.92 L510.7,201.32 L512.2,201.68 L513.7,201.98 L515.2,202.25 L516.7,202.48 L518.2,202.67 L519.7,202.84 L521.2,202.98 L522.7,203.10 L523.8,203.19" fill="none" stroke="#000" stroke-width="1.42" stroke-linejoin="round" stroke-linecap="butt"/>
<path d="M201.3,245.20 L202.8,245.13 L204.3,245.06 L205.8,244.98 L207.3,244.90 L208.8,244.82 L210.3,244.73 L211.8,244.63 L213.3,244.52 L214.8,244.41 L216.3,244.29 L217.8,244.16 L219.3,244.02 L220.8,243.87 L222.3,243.71 L223.8,243.53 L225.3,243.35 L226.8,243.15 L228.3,242.93 L229.8,242.71 L231.3,242.46 L232.8,242.21 L234.3,241.93 L235.8,241.64 L237.3,241.33 L238.8,241.00 L240.3,240.66 L241.8,240.29 L243.3,239.91 L244.8,239.52 L246.3,239.11 L247.8,238.69 L249.3,238.26 L250.8,237.82 L252.3,237.37 L253.8,236.91 L255.3,236.45 L256.8,235.98 L258.3,235.51 L259.8,235.03 L261.3,234.56 L262.8,234.08 L264.3,233.61 L265.8,233.14 L267.3,232.67 L268.8,232.20 L270.3,231.75 L271.8,231.30 L273.3,230.86 L274.8,230.42 L276.3,230.00 L277.8,229.59 L279.3,229.18 L280.8,228.79 L282.3,228.40 L283.8,228.03 L285.3,227.66 L286.8,227.31 L288.3,226.97 L289.8,226.63 L291.3,226.31 L292.8,226.00 L294.3,225.71 L295.8,225.42 L297.3,225.15 L298.8,224.88 L300.3,224.64 L301.8,224.40 L303.3,224.18 L304.8,223.96 L306.3,223.77 L307.8,223.58 L309.3,223.40 L310.8,223.24 L312.3,223.08 L313.8,222.93 L315.3,222.80 L316.8,222.67 L318.3,222.55 L319.8,222.43 L321.3,222.33 L322.8,222.23 L324.3,222.13 L325.8,222.04 L327.3,221.96 L328.8,221.88 L330.3,221.81 L331.8,221.73 L333.3,221.67 L334.8,221.60 L336.3,221.53 L337.8,221.47 L339.3,221.41 L340.8,221.36 L342.3,221.31 L343.8,221.26 L345.3,221.21 L346.8,221.17 L348.3,221.13 L349.8,221.10 L351.3,221.07 L352.8,221.04 L354.3,221.02 L355.8,221.00 L357.3,220.99 L358.8,220.98 L360.3,220.98 L361.8,220.98 L363.3,220.99 L364.8,221.01 L366.3,221.03 L367.8,221.05 L369.3,221.09 L370.8,221.12 L372.3,221.16 L373.8,221.19 L375.3,221.22 L376.8,221.25 L378.3,221.27 L379.8,221.28 L381.3,221.28 L382.8,221.27 L384.3,221.24 L385.8,221.20 L387.3,221.13 L388.8,221.05 L390.3,220.94 L391.8,220.81 L393.3,220.65 L394.8,220.47 L396.3,220.27 L397.8,220.06 L399.3,219.84 L400.8,219.61 L402.3,219.39 L403.8,219.17 L405.3,218.96 L406.8,218.77 L408.3,218.59 L409.8,218.42 L411.3,218.28 L412.8,218.16 L414.3,218.06 L415.8,217.98 L417.3,217.92 L418.8,217.88 L420.3,217.85 L421.8,217.84 L423.3,217.82 L424.8,217.82 L426.3,217.81 L427.8,217.79 L429.3,217.77 L430.8,217.74 L432.3,217.71 L433.8,217.67 L435.3,217.63 L436.8,217.58 L438.3,217.53 L439.8,217.47 L441.3,217.40 L442.8,217.34 L444.3,217.27 L445.8,217.19 L447.3,217.11 L448.8,217.03 L450.3,216.95 L451.8,216.86 L453.3,216.77 L454.8,216.68 L456.3,216.60 L457.8,216.53 L459.3,216.48 L460.8,216.45 L462.3,216.45 L463.8,216.48 L465.3,216.55 L466.8,216.65 L468.3,216.81 L469.8,217.02 L471.3,217.29 L472.8,217.62 L474.3,218.03 L475.8,218.50 L477.3,219.05 L478.8,219.69 L480.3,220.42 L481.8,221.23 L483.3,222.11 L484.8,223.05 L486.3,224.04 L487.8,225.08 L489.3,226.15 L490.8,227.25 L492.3,228.35 L493.8,229.47 L495.3,230.58 L496.8,231.67 L498.3,232.74 L499.8,233.79 L501.3,234.81 L502.8,235.79 L504.3,236.73 L505.8,237.63 L507.3,238.48 L508.8,239.28 L510.3,240.02 L511.8,240.70 L513.3,241.32 L514.8,241.88 L516.3,242.38 L517.8,242.83 L519.3,243.23 L520.8,243.58 L522.3,243.89 L523.8,244.16 L525.3,244.39 L526.8,244.59 L528.3,244.75 L529.8,244.88 L531.3,244.99 L532.8,245.07 L534.3,245.13 L535.3,245.16 L535.3,245.35 L201.3,245.35 Z" fill="url(#pg)" fill-opacity="1" stroke="none"/>
<path d="M201.3,245.20 L202.8,245.13 L204.3,245.06 L205.8,244.98 L207.3,244.90 L208.8,244.82 L210.3,244.73 L211.8,244.63 L213.3,244.52 L214.8,244.41 L216.3,244.29 L217.8,244.16 L219.3,244.02 L220.8,243.87 L222.3,243.71 L223.8,243.53 L225.3,243.35 L226.8,243.15 L228.3,242.93 L229.8,242.71 L231.3,242.46 L232.8,242.21 L234.3,241.93 L235.8,241.64 L237.3,241.33 L238.8,241.00 L240.3,240.66 L241.8,240.29 L243.3,239.91 L244.8,239.52 L246.3,239.11 L247.8,238.69 L249.3,238.26 L250.8,237.82 L252.3,237.37 L253.8,236.91 L255.3,236.45 L256.8,235.98 L258.3,235.51 L259.8,235.03 L261.3,234.56 L262.8,234.08 L264.3,233.61 L265.8,233.14 L267.3,232.67 L268.8,232.20 L270.3,231.75 L271.8,231.30 L273.3,230.86 L274.8,230.42 L276.3,230.00 L277.8,229.59 L279.3,229.18 L280.8,228.79 L282.3,228.40 L283.8,228.03 L285.3,227.66 L286.8,227.31 L288.3,226.97 L289.8,226.63 L291.3,226.31 L292.8,226.00 L294.3,225.71 L295.8,225.42 L297.3,225.15 L298.8,224.88 L300.3,224.64 L301.8,224.40 L303.3,224.18 L304.8,223.96 L306.3,223.77 L307.8,223.58 L309.3,223.40 L310.8,223.24 L312.3,223.08 L313.8,222.93 L315.3,222.80 L316.8,222.67 L318.3,222.55 L319.8,222.43 L321.3,222.33 L322.8,222.23 L324.3,222.13 L325.8,222.04 L327.3,221.96 L328.8,221.88 L330.3,221.81 L331.8,221.73 L333.3,221.67 L334.8,221.60 L336.3,221.53 L337.8,221.47 L339.3,221.41 L340.8,221.36 L342.3,221.31 L343.8,221.26 L345.3,221.21 L346.8,221.17 L348.3,221.13 L349.8,221.10 L351.3,221.07 L352.8,221.04 L354.3,221.02 L355.8,221.00 L357.3,220.99 L358.8,220.98 L360.3,220.98 L361.8,220.98 L363.3,220.99 L364.8,221.01 L366.3,221.03 L367.8,221.05 L369.3,221.09 L370.8,221.12 L372.3,221.16 L373.8,221.19 L375.3,221.22 L376.8,221.25 L378.3,221.27 L379.8,221.28 L381.3,221.28 L382.8,221.27 L384.3,221.24 L385.8,221.20 L387.3,221.13 L388.8,221.05 L390.3,220.94 L391.8,220.81 L393.3,220.65 L394.8,220.47 L396.3,220.27 L397.8,220.06 L399.3,219.84 L400.8,219.61 L402.3,219.39 L403.8,219.17 L405.3,218.96 L406.8,218.77 L408.3,218.59 L409.8,218.42 L411.3,218.28 L412.8,218.16 L414.3,218.06 L415.8,217.98 L417.3,217.92 L418.8,217.88 L420.3,217.85 L421.8,217.84 L423.3,217.82 L424.8,217.82 L426.3,217.81 L427.8,217.79 L429.3,217.77 L430.8,217.74 L432.3,217.71 L433.8,217.67 L435.3,217.63 L436.8,217.58 L438.3,217.53 L439.8,217.47 L441.3,217.40 L442.8,217.34 L444.3,217.27 L445.8,217.19 L447.3,217.11 L448.8,217.03 L450.3,216.95 L451.8,216.86 L453.3,216.77 L454.8,216.68 L456.3,216.60 L457.8,216.53 L459.3,216.48 L460.8,216.45 L462.3,216.45 L463.8,216.48 L465.3,216.55 L466.8,216.65 L468.3,216.81 L469.8,217.02 L471.3,217.29 L472.8,217.62 L474.3,218.03 L475.8,218.50 L477.3,219.05 L478.8,219.69 L480.3,220.42 L481.8,221.23 L483.3,222.11 L484.8,223.05 L486.3,224.04 L487.8,225.08 L489.3,226.15 L490.8,227.25 L492.3,228.35 L493.8,229.47 L495.3,230.58 L496.8,231.67 L498.3,232.74 L499.8,233.79 L501.3,234.81 L502.8,235.79 L504.3,236.73 L505.8,237.63 L507.3,238.48 L508.8,239.28 L510.3,240.02 L511.8,240.70 L513.3,241.32 L514.8,241.88 L516.3,242.38 L517.8,242.83 L519.3,243.23 L520.8,243.58 L522.3,243.89 L523.8,244.16 L525.3,244.39 L526.8,244.59 L528.3,244.75 L529.8,244.88 L531.3,244.99 L532.8,245.07 L534.3,245.13 L535.3,245.16" fill="none" stroke="#000" stroke-width="1.42" stroke-linejoin="round" stroke-linecap="butt"/>
<path d="M217.5,287.00 L219.0,286.95 L220.5,286.90 L222.0,286.84 L223.5,286.78 L225.0,286.71 L226.5,286.64 L228.0,286.56 L229.5,286.47 L231.0,286.37 L232.5,286.25 L234.0,286.13 L235.5,285.99 L237.0,285.84 L238.5,285.67 L240.0,285.49 L241.5,285.29 L243.0,285.07 L244.5,284.83 L246.0,284.57 L247.5,284.29 L249.0,283.99 L250.5,283.66 L252.0,283.32 L253.5,282.94 L255.0,282.55 L256.5,282.15 L258.0,281.72 L259.5,281.28 L261.0,280.83 L262.5,280.37 L264.0,279.90 L265.5,279.42 L267.0,278.94 L268.5,278.45 L270.0,277.96 L271.5,277.48 L273.0,276.99 L274.5,276.51 L276.0,276.04 L277.5,275.57 L279.0,275.11 L280.5,274.65 L282.0,274.20 L283.5,273.76 L285.0,273.33 L286.5,272.90 L288.0,272.48 L289.5,272.07 L291.0,271.66 L292.5,271.26 L294.0,270.87 L295.5,270.49 L297.0,270.11 L298.5,269.74 L300.0,269.38 L301.5,269.02 L303.0,268.67 L304.5,268.33 L306.0,268.00 L307.5,267.68 L309.0,267.36 L310.5,267.05 L312.0,266.75 L313.5,266.46 L315.0,266.18 L316.5,265.90 L318.0,265.63 L319.5,265.37 L321.0,265.12 L322.5,264.87 L324.0,264.64 L325.5,264.41 L327.0,264.19 L328.5,263.98 L330.0,263.78 L331.5,263.59 L333.0,263.40 L334.5,263.22 L336.0,263.06 L337.5,262.90 L339.0,262.75 L340.5,262.60 L342.0,262.47 L343.5,262.35 L345.0,262.23 L346.5,262.12 L348.0,262.03 L349.5,261.94 L351.0,261.86 L352.5,261.79 L354.0,261.72 L355.5,261.67 L357.0,261.62 L358.5,261.58 L360.0,261.54 L361.5,261.52 L363.0,261.50 L364.5,261.48 L366.0,261.48 L367.5,261.47 L369.0,261.48 L370.5,261.49 L372.0,261.50 L373.5,261.52 L375.0,261.55 L376.5,261.57 L378.0,261.60 L379.5,261.63 L381.0,261.66 L382.5,261.69 L384.0,261.70 L385.5,261.71 L387.0,261.71 L388.5,261.69 L390.0,261.65 L391.5,261.60 L393.0,261.53 L394.5,261.43 L396.0,261.31 L397.5,261.16 L399.0,260.98 L400.5,260.77 L402.0,260.53 L403.5,260.28 L405.0,260.01 L406.5,259.74 L408.0,259.47 L409.5,259.21 L411.0,258.95 L412.5,258.72 L414.0,258.49 L415.5,258.29 L417.0,258.12 L418.5,257.96 L420.0,257.84 L421.5,257.74 L423.0,257.67 L424.5,257.62 L426.0,257.59 L427.5,257.58 L429.0,257.58 L430.5,257.59 L432.0,257.61 L433.5,257.63 L435.0,257.65 L436.5,257.67 L438.0,257.68 L439.5,257.68 L441.0,257.67 L442.5,257.66 L444.0,257.63 L445.5,257.60 L447.0,257.56 L448.5,257.51 L450.0,257.46 L451.5,257.40 L453.0,257.33 L454.5,257.26 L456.0,257.20 L457.5,257.14 L459.0,257.09 L460.5,257.07 L462.0,257.06 L463.5,257.08 L465.0,257.13 L466.5,257.21 L468.0,257.33 L469.5,257.50 L471.0,257.71 L472.5,257.97 L474.0,258.29 L475.5,258.67 L477.0,259.11 L478.5,259.62 L480.0,260.21 L481.5,260.87 L483.0,261.61 L484.5,262.41 L486.0,263.28 L487.5,264.19 L489.0,265.15 L490.5,266.15 L492.0,267.18 L493.5,268.22 L495.0,269.28 L496.5,270.35 L498.0,271.41 L499.5,272.47 L501.0,273.52 L502.5,274.55 L504.0,275.55 L505.5,276.53 L507.0,277.46 L508.5,278.36 L510.0,279.20 L511.5,279.99 L513.0,280.73 L514.5,281.41 L516.0,282.03 L517.5,282.61 L519.0,283.15 L520.5,283.63 L522.0,284.08 L523.5,284.49 L525.0,284.86 L526.5,285.20 L528.0,285.50 L529.5,285.78 L531.0,286.02 L532.5,286.25 L534.0,286.45 L535.5,286.63 L537.0,286.80 L538.5,286.95 L538.8,286.98 L538.8,287.23 L217.5,287.23 Z" fill="url(#pg)" fill-opacity="1" stroke="none"/>
<path d="M217.5,287.00 L219.0,286.95 L220.5,286.90 L222.0,286.84 L223.5,286.78 L225.0,286.71 L226.5,286.64 L228.0,286.56 L229.5,286.47 L231.0,286.37 L232.5,286.25 L234.0,286.13 L235.5,285.99 L237.0,285.84 L238.5,285.67 L240.0,285.49 L241.5,285.29 L243.0,285.07 L244.5,284.83 L246.0,284.57 L247.5,284.29 L249.0,283.99 L250.5,283.66 L252.0,283.32 L253.5,282.94 L255.0,282.55 L256.5,282.15 L258.0,281.72 L259.5,281.28 L261.0,280.83 L262.5,280.37 L264.0,279.90 L265.5,279.42 L267.0,278.94 L268.5,278.45 L270.0,277.96 L271.5,277.48 L273.0,276.99 L274.5,276.51 L276.0,276.04 L277.5,275.57 L279.0,275.11 L280.5,274.65 L282.0,274.20 L283.5,273.76 L285.0,273.33 L286.5,272.90 L288.0,272.48 L289.5,272.07 L291.0,271.66 L292.5,271.26 L294.0,270.87 L295.5,270.49 L297.0,270.11 L298.5,269.74 L300.0,269.38 L301.5,269.02 L303.0,268.67 L304.5,268.33 L306.0,268.00 L307.5,267.68 L309.0,267.36 L310.5,267.05 L312.0,266.75 L313.5,266.46 L315.0,266.18 L316.5,265.90 L318.0,265.63 L319.5,265.37 L321.0,265.12 L322.5,264.87 L324.0,264.64 L325.5,264.41 L327.0,264.19 L328.5,263.98 L330.0,263.78 L331.5,263.59 L333.0,263.40 L334.5,263.22 L336.0,263.06 L337.5,262.90 L339.0,262.75 L340.5,262.60 L342.0,262.47 L343.5,262.35 L345.0,262.23 L346.5,262.12 L348.0,262.03 L349.5,261.94 L351.0,261.86 L352.5,261.79 L354.0,261.72 L355.5,261.67 L357.0,261.62 L358.5,261.58 L360.0,261.54 L361.5,261.52 L363.0,261.50 L364.5,261.48 L366.0,261.48 L367.5,261.47 L369.0,261.48 L370.5,261.49 L372.0,261.50 L373.5,261.52 L375.0,261.55 L376.5,261.57 L378.0,261.60 L379.5,261.63 L381.0,261.66 L382.5,261.69 L384.0,261.70 L385.5,261.71 L387.0,261.71 L388.5,261.69 L390.0,261.65 L391.5,261.60 L393.0,261.53 L394.5,261.43 L396.0,261.31 L397.5,261.16 L399.0,260.98 L400.5,260.77 L402.0,260.53 L403.5,260.28 L405.0,260.01 L406.5,259.74 L408.0,259.47 L409.5,259.21 L411.0,258.95 L412.5,258.72 L414.0,258.49 L415.5,258.29 L417.0,258.12 L418.5,257.96 L420.0,257.84 L421.5,257.74 L423.0,257.67 L424.5,257.62 L426.0,257.59 L427.5,257.58 L429.0,257.58 L430.5,257.59 L432.0,257.61 L433.5,257.63 L435.0,257.65 L436.5,257.67 L438.0,257.68 L439.5,257.68 L441.0,257.67 L442.5,257.66 L444.0,257.63 L445.5,257.60 L447.0,257.56 L448.5,257.51 L450.0,257.46 L451.5,257.40 L453.0,257.33 L454.5,257.26 L456.0,257.20 L457.5,257.14 L459.0,257.09 L460.5,257.07 L462.0,257.06 L463.5,257.08 L465.0,257.13 L466.5,257.21 L468.0,257.33 L469.5,257.50 L471.0,257.71 L472.5,257.97 L474.0,258.29 L475.5,258.67 L477.0,259.11 L478.5,259.62 L480.0,260.21 L481.5,260.87 L483.0,261.61 L484.5,262.41 L486.0,263.28 L487.5,264.19 L489.0,265.15 L490.5,266.15 L492.0,267.18 L493.5,268.22 L495.0,269.28 L496.5,270.35 L498.0,271.41 L499.5,272.47 L501.0,273.52 L502.5,274.55 L504.0,275.55 L505.5,276.53 L507.0,277.46 L508.5,278.36 L510.0,279.20 L511.5,279.99 L513.0,280.73 L514.5,281.41 L516.0,282.03 L517.5,282.61 L519.0,283.15 L520.5,283.63 L522.0,284.08 L523.5,284.49 L525.0,284.86 L526.5,285.20 L528.0,285.50 L529.5,285.78 L531.0,286.02 L532.5,286.25 L534.0,286.45 L535.5,286.63 L537.0,286.80 L538.5,286.95 L538.8,286.98" fill="none" stroke="#000" stroke-width="1.42" stroke-linejoin="round" stroke-linecap="butt"/>
<path d="M239.2,329.11 L240.7,329.11 L242.2,329.01 L243.7,328.89 L245.2,328.77 L246.7,328.63 L248.2,328.49 L249.7,328.34 L251.2,328.18 L252.7,328.01 L254.2,327.83 L255.7,327.64 L257.2,327.45 L258.7,327.24 L260.2,327.02 L261.7,326.79 L263.2,326.55 L264.7,326.29 L266.2,326.03 L267.7,325.75 L269.2,325.46 L270.7,325.16 L272.2,324.85 L273.7,324.52 L275.2,324.19 L276.7,323.83 L278.2,323.47 L279.7,323.09 L281.2,322.69 L282.7,322.28 L284.2,321.86 L285.7,321.42 L287.2,320.96 L288.7,320.49 L290.2,320.01 L291.7,319.51 L293.2,318.99 L294.7,318.46 L296.2,317.90 L297.7,317.34 L299.2,316.76 L300.7,316.17 L302.2,315.57 L303.7,314.96 L305.2,314.35 L306.7,313.73 L308.2,313.11 L309.7,312.49 L311.2,311.88 L312.7,311.27 L314.2,310.67 L315.7,310.07 L317.2,309.49 L318.7,308.92 L320.2,308.36 L321.7,307.82 L323.2,307.29 L324.7,306.79 L326.2,306.31 L327.7,305.86 L329.2,305.43 L330.7,305.03 L332.2,304.65 L333.7,304.30 L335.2,303.97 L336.7,303.67 L338.2,303.39 L339.7,303.13 L341.2,302.89 L342.7,302.67 L344.2,302.46 L345.7,302.27 L347.2,302.10 L348.7,301.94 L350.2,301.80 L351.7,301.67 L353.2,301.54 L354.7,301.43 L356.2,301.33 L357.7,301.25 L359.2,301.17 L360.7,301.11 L362.2,301.06 L363.7,301.02 L365.2,301.00 L366.7,300.99 L368.2,300.99 L369.7,301.01 L371.2,301.05 L372.7,301.10 L374.2,301.16 L375.7,301.24 L377.2,301.33 L378.7,301.43 L380.2,301.54 L381.7,301.66 L383.2,301.78 L384.7,301.91 L386.2,302.04 L387.7,302.17 L389.2,302.30 L390.7,302.43 L392.2,302.56 L393.7,302.69 L395.2,302.81 L396.7,302.92 L398.2,303.02 L399.7,303.11 L401.2,303.20 L402.7,303.27 L404.2,303.32 L405.7,303.36 L407.2,303.38 L408.7,303.38 L410.2,303.37 L411.7,303.33 L413.2,303.27 L414.7,303.18 L416.2,303.08 L417.7,302.95 L419.2,302.81 L420.7,302.65 L422.2,302.47 L423.7,302.28 L425.2,302.08 L426.7,301.86 L428.2,301.63 L429.7,301.40 L431.2,301.15 L432.7,300.90 L434.2,300.64 L435.7,300.37 L437.2,300.11 L438.7,299.84 L440.2,299.57 L441.7,299.30 L443.2,299.03 L444.7,298.76 L446.2,298.50 L447.7,298.25 L449.2,298.00 L450.7,297.76 L452.2,297.53 L453.7,297.31 L455.2,297.10 L456.7,296.90 L458.2,296.72 L459.7,296.57 L461.2,296.43 L462.7,296.32 L464.2,296.24 L465.7,296.19 L467.2,296.17 L468.7,296.19 L470.2,296.25 L471.7,296.35 L473.2,296.50 L474.7,296.69 L476.2,296.94 L477.7,297.24 L479.2,297.59 L480.7,298.01 L482.2,298.48 L483.7,299.03 L485.2,299.63 L486.7,300.31 L488.2,301.06 L489.7,301.87 L491.2,302.73 L492.7,303.64 L494.2,304.60 L495.7,305.60 L497.2,306.63 L498.7,307.70 L500.2,308.78 L501.7,309.88 L503.2,310.99 L504.7,312.11 L506.2,313.23 L507.7,314.34 L509.2,315.44 L510.7,316.53 L512.2,317.59 L513.7,318.63 L515.2,319.63 L516.7,320.59 L518.2,321.51 L519.7,322.38 L521.2,323.19 L522.7,323.95 L524.2,324.66 L525.7,325.31 L527.2,325.91 L528.7,326.46 L530.2,326.95 L531.7,327.39 L533.2,327.77 L534.7,328.10 L536.2,328.38 L537.7,328.60 L539.2,328.76 L540.7,328.87 L542.2,328.93 L543.3,328.94 L543.3,329.11 L239.2,329.11 Z" fill="url(#pg)" fill-opacity="1" stroke="none"/>
<path d="M239.2,329.11 L240.7,329.11 L242.2,329.01 L243.7,328.89 L245.2,328.77 L246.7,328.63 L248.2,328.49 L249.7,328.34 L251.2,328.18 L252.7,328.01 L254.2,327.83 L255.7,327.64 L257.2,327.45 L258.7,327.24 L260.2,327.02 L261.7,326.79 L263.2,326.55 L264.7,326.29 L266.2,326.03 L267.7,325.75 L269.2,325.46 L270.7,325.16 L272.2,324.85 L273.7,324.52 L275.2,324.19 L276.7,323.83 L278.2,323.47 L279.7,323.09 L281.2,322.69 L282.7,322.28 L284.2,321.86 L285.7,321.42 L287.2,320.96 L288.7,320.49 L290.2,320.01 L291.7,319.51 L293.2,318.99 L294.7,318.46 L296.2,317.90 L297.7,317.34 L299.2,316.76 L300.7,316.17 L302.2,315.57 L303.7,314.96 L305.2,314.35 L306.7,313.73 L308.2,313.11 L309.7,312.49 L311.2,311.88 L312.7,311.27 L314.2,310.67 L315.7,310.07 L317.2,309.49 L318.7,308.92 L320.2,308.36 L321.7,307.82 L323.2,307.29 L324.7,306.79 L326.2,306.31 L327.7,305.86 L329.2,305.43 L330.7,305.03 L332.2,304.65 L333.7,304.30 L335.2,303.97 L336.7,303.67 L338.2,303.39 L339.7,303.13 L341.2,302.89 L342.7,302.67 L344.2,302.46 L345.7,302.27 L347.2,302.10 L348.7,301.94 L350.2,301.80 L351.7,301.67 L353.2,301.54 L354.7,301.43 L356.2,301.33 L357.7,301.25 L359.2,301.17 L360.7,301.11 L362.2,301.06 L363.7,301.02 L365.2,301.00 L366.7,300.99 L368.2,300.99 L369.7,301.01 L371.2,301.05 L372.7,301.10 L374.2,301.16 L375.7,301.24 L377.2,301.33 L378.7,301.43 L380.2,301.54 L381.7,301.66 L383.2,301.78 L384.7,301.91 L386.2,302.04 L387.7,302.17 L389.2,302.30 L390.7,302.43 L392.2,302.56 L393.7,302.69 L395.2,302.81 L396.7,302.92 L398.2,303.02 L399.7,303.11 L401.2,303.20 L402.7,303.27 L404.2,303.32 L405.7,303.36 L407.2,303.38 L408.7,303.38 L410.2,303.37 L411.7,303.33 L413.2,303.27 L414.7,303.18 L416.2,303.08 L417.7,302.95 L419.2,302.81 L420.7,302.65 L422.2,302.47 L423.7,302.28 L425.2,302.08 L426.7,301.86 L428.2,301.63 L429.7,301.40 L431.2,301.15 L432.7,300.90 L434.2,300.64 L435.7,300.37 L437.2,300.11 L438.7,299.84 L440.2,299.57 L441.7,299.30 L443.2,299.03 L444.7,298.76 L446.2,298.50 L447.7,298.25 L449.2,298.00 L450.7,297.76 L452.2,297.53 L453.7,297.31 L455.2,297.10 L456.7,296.90 L458.2,296.72 L459.7,296.57 L461.2,296.43 L462.7,296.32 L464.2,296.24 L465.7,296.19 L467.2,296.17 L468.7,296.19 L470.2,296.25 L471.7,296.35 L473.2,296.50 L474.7,296.69 L476.2,296.94 L477.7,297.24 L479.2,297.59 L480.7,298.01 L482.2,298.48 L483.7,299.03 L485.2,299.63 L486.7,300.31 L488.2,301.06 L489.7,301.87 L491.2,302.73 L492.7,303.64 L494.2,304.60 L495.7,305.60 L497.2,306.63 L498.7,307.70 L500.2,308.78 L501.7,309.88 L503.2,310.99 L504.7,312.11 L506.2,313.23 L507.7,314.34 L509.2,315.44 L510.7,316.53 L512.2,317.59 L513.7,318.63 L515.2,319.63 L516.7,320.59 L518.2,321.51 L519.7,322.38 L521.2,323.19 L522.7,323.95 L524.2,324.66 L525.7,325.31 L527.2,325.91 L528.7,326.46 L530.2,326.95 L531.7,327.39 L533.2,327.77 L534.7,328.10 L536.2,328.38 L537.7,328.60 L539.2,328.76 L540.7,328.87 L542.2,328.93 L543.3,328.94" fill="none" stroke="#000" stroke-width="1.42" stroke-linejoin="round" stroke-linecap="butt"/>
<path d="M258.0,370.66 L259.5,370.59 L261.0,370.50 L262.5,370.39 L264.0,370.27 L265.5,370.13 L267.0,369.97 L268.5,369.79 L270.0,369.60 L271.5,369.39 L273.0,369.16 L274.5,368.91 L276.0,368.65 L277.5,368.38 L279.0,368.08 L280.5,367.77 L282.0,367.45 L283.5,367.11 L285.0,366.75 L286.5,366.39 L288.0,366.00 L289.5,365.60 L291.0,365.19 L292.5,364.76 L294.0,364.32 L295.5,363.86 L297.0,363.39 L298.5,362.91 L300.0,362.42 L301.5,361.91 L303.0,361.39 L304.5,360.85 L306.0,360.31 L307.5,359.75 L309.0,359.18 L310.5,358.60 L312.0,358.00 L313.5,357.40 L315.0,356.78 L316.5,356.16 L318.0,355.53 L319.5,354.89 L321.0,354.25 L322.5,353.61 L324.0,352.97 L325.5,352.34 L327.0,351.71 L328.5,351.08 L330.0,350.47 L331.5,349.86 L333.0,349.27 L334.5,348.70 L336.0,348.14 L337.5,347.60 L339.0,347.08 L340.5,346.58 L342.0,346.11 L343.5,345.66 L345.0,345.25 L346.5,344.86 L348.0,344.51 L349.5,344.19 L351.0,343.91 L352.5,343.67 L354.0,343.47 L355.5,343.30 L357.0,343.17 L358.5,343.06 L360.0,342.98 L361.5,342.92 L363.0,342.88 L364.5,342.86 L366.0,342.85 L367.5,342.85 L369.0,342.85 L370.5,342.86 L372.0,342.86 L373.5,342.86 L375.0,342.85 L376.5,342.83 L378.0,342.80 L379.5,342.76 L381.0,342.72 L382.5,342.67 L384.0,342.62 L385.5,342.57 L387.0,342.52 L388.5,342.47 L390.0,342.43 L391.5,342.39 L393.0,342.37 L394.5,342.36 L396.0,342.36 L397.5,342.37 L399.0,342.41 L400.5,342.46 L402.0,342.54 L403.5,342.63 L405.0,342.75 L406.5,342.89 L408.0,343.04 L409.5,343.20 L411.0,343.37 L412.5,343.54 L414.0,343.72 L415.5,343.89 L417.0,344.07 L418.5,344.23 L420.0,344.39 L421.5,344.53 L423.0,344.66 L424.5,344.77 L426.0,344.86 L427.5,344.92 L429.0,344.95 L430.5,344.96 L432.0,344.93 L433.5,344.86 L435.0,344.76 L436.5,344.61 L438.0,344.41 L439.5,344.17 L441.0,343.87 L442.5,343.52 L444.0,343.12 L445.5,342.68 L447.0,342.20 L448.5,341.69 L450.0,341.15 L451.5,340.59 L453.0,340.01 L454.5,339.43 L456.0,338.84 L457.5,338.25 L459.0,337.67 L460.5,337.10 L462.0,336.55 L463.5,336.02 L465.0,335.53 L466.5,335.07 L468.0,334.65 L469.5,334.28 L471.0,333.96 L472.5,333.70 L474.0,333.50 L475.5,333.38 L477.0,333.34 L478.5,333.39 L480.0,333.55 L481.5,333.83 L483.0,334.24 L484.5,334.78 L486.0,335.43 L487.5,336.20 L489.0,337.06 L490.5,338.01 L492.0,339.03 L493.5,340.12 L495.0,341.27 L496.5,342.46 L498.0,343.69 L499.5,344.96 L501.0,346.25 L502.5,347.55 L504.0,348.87 L505.5,350.18 L507.0,351.50 L508.5,352.81 L510.0,354.13 L511.5,355.46 L513.0,356.80 L514.5,358.13 L516.0,359.44 L517.5,360.71 L519.0,361.92 L520.5,363.05 L522.0,364.08 L523.5,365.00 L525.0,365.84 L526.5,366.59 L528.0,367.25 L529.5,367.84 L531.0,368.36 L532.5,368.81 L534.0,369.20 L535.5,369.54 L537.0,369.83 L538.5,370.08 L540.0,370.29 L541.5,370.47 L541.7,370.50 L541.7,370.99 L258.0,370.99 Z" fill="url(#pg)" fill-opacity="1" stroke="none"/>
<path d="M258.0,370.66 L259.5,370.59 L261.0,370.50 L262.5,370.39 L264.0,370.27 L265.5,370.13 L267.0,369.97 L268.5,369.79 L270.0,369.60 L271.5,369.39 L273.0,369.16 L274.5,368.91 L276.0,368.65 L277.5,368.38 L279.0,368.08 L280.5,367.77 L282.0,367.45 L283.5,367.11 L285.0,366.75 L286.5,366.39 L288.0,366.00 L289.5,365.60 L291.0,365.19 L292.5,364.76 L294.0,364.32 L295.5,363.86 L297.0,363.39 L298.5,362.91 L300.0,362.42 L301.5,361.91 L303.0,361.39 L304.5,360.85 L306.0,360.31 L307.5,359.75 L309.0,359.18 L310.5,358.60 L312.0,358.00 L313.5,357.40 L315.0,356.78 L316.5,356.16 L318.0,355.53 L319.5,354.89 L321.0,354.25 L322.5,353.61 L324.0,352.97 L325.5,352.34 L327.0,351.71 L328.5,351.08 L330.0,350.47 L331.5,349.86 L333.0,349.27 L334.5,348.70 L336.0,348.14 L337.5,347.60 L339.0,347.08 L340.5,346.58 L342.0,346.11 L343.5,345.66 L345.0,345.25 L346.5,344.86 L348.0,344.51 L349.5,344.19 L351.0,343.91 L352.5,343.67 L354.0,343.47 L355.5,343.30 L357.0,343.17 L358.5,343.06 L360.0,342.98 L361.5,342.92 L363.0,342.88 L364.5,342.86 L366.0,342.85 L367.5,342.85 L369.0,342.85 L370.5,342.86 L372.0,342.86 L373.5,342.86 L375.0,342.85 L376.5,342.83 L378.0,342.80 L379.5,342.76 L381.0,342.72 L382.5,342.67 L384.0,342.62 L385.5,342.57 L387.0,342.52 L388.5,342.47 L390.0,342.43 L391.5,342.39 L393.0,342.37 L394.5,342.36 L396.0,342.36 L397.5,342.37 L399.0,342.41 L400.5,342.46 L402.0,342.54 L403.5,342.63 L405.0,342.75 L406.5,342.89 L408.0,343.04 L409.5,343.20 L411.0,343.37 L412.5,343.54 L414.0,343.72 L415.5,343.89 L417.0,344.07 L418.5,344.23 L420.0,344.39 L421.5,344.53 L423.0,344.66 L424.5,344.77 L426.0,344.86 L427.5,344.92 L429.0,344.95 L430.5,344.96 L432.0,344.93 L433.5,344.86 L435.0,344.76 L436.5,344.61 L438.0,344.41 L439.5,344.17 L441.0,343.87 L442.5,343.52 L444.0,343.12 L445.5,342.68 L447.0,342.20 L448.5,341.69 L450.0,341.15 L451.5,340.59 L453.0,340.01 L454.5,339.43 L456.0,338.84 L457.5,338.25 L459.0,337.67 L460.5,337.10 L462.0,336.55 L463.5,336.02 L465.0,335.53 L466.5,335.07 L468.0,334.65 L469.5,334.28 L471.0,333.96 L472.5,333.70 L474.0,333.50 L475.5,333.38 L477.0,333.34 L478.5,333.39 L480.0,333.55 L481.5,333.83 L483.0,334.24 L484.5,334.78 L486.0,335.43 L487.5,336.20 L489.0,337.06 L490.5,338.01 L492.0,339.03 L493.5,340.12 L495.0,341.27 L496.5,342.46 L498.0,343.69 L499.5,344.96 L501.0,346.25 L502.5,347.55 L504.0,348.87 L505.5,350.18 L507.0,351.50 L508.5,352.81 L510.0,354.13 L511.5,355.46 L513.0,356.80 L514.5,358.13 L516.0,359.44 L517.5,360.71 L519.0,361.92 L520.5,363.05 L522.0,364.08 L523.5,365.00 L525.0,365.84 L526.5,366.59 L528.0,367.25 L529.5,367.84 L531.0,368.36 L532.5,368.81 L534.0,369.20 L535.5,369.54 L537.0,369.83 L538.5,370.08 L540.0,370.29 L541.5,370.47 L541.7,370.50" fill="none" stroke="#000" stroke-width="1.42" stroke-linejoin="round" stroke-linecap="butt"/>
<path d="M268.7,412.68 L270.2,412.62 L271.7,412.55 L273.2,412.46 L274.7,412.37 L276.2,412.25 L277.7,412.13 L279.2,411.99 L280.7,411.84 L282.2,411.67 L283.7,411.49 L285.2,411.30 L286.7,411.09 L288.2,410.87 L289.7,410.64 L291.2,410.39 L292.7,410.14 L294.2,409.86 L295.7,409.58 L297.2,409.28 L298.7,408.97 L300.2,408.65 L301.7,408.31 L303.2,407.96 L304.7,407.60 L306.2,407.23 L307.7,406.84 L309.2,406.44 L310.7,406.03 L312.2,405.61 L313.7,405.17 L315.2,404.72 L316.7,404.26 L318.2,403.79 L319.7,403.31 L321.2,402.81 L322.7,402.30 L324.2,401.78 L325.7,401.25 L327.2,400.71 L328.7,400.15 L330.2,399.58 L331.7,399.01 L333.2,398.41 L334.7,397.81 L336.2,397.20 L337.7,396.58 L339.2,395.94 L340.7,395.29 L342.2,394.64 L343.7,393.98 L345.2,393.32 L346.7,392.65 L348.2,391.99 L349.7,391.32 L351.2,390.66 L352.7,390.01 L354.2,389.37 L355.7,388.73 L357.2,388.11 L358.7,387.50 L360.2,386.91 L361.7,386.34 L363.2,385.79 L364.7,385.26 L366.2,384.75 L367.7,384.28 L369.2,383.83 L370.7,383.41 L372.2,383.02 L373.7,382.66 L375.2,382.33 L376.7,382.03 L378.2,381.76 L379.7,381.51 L381.2,381.30 L382.7,381.12 L384.2,380.96 L385.7,380.84 L387.2,380.74 L388.7,380.67 L390.2,380.63 L391.7,380.62 L393.2,380.64 L394.7,380.69 L396.2,380.76 L397.7,380.86 L399.2,380.99 L400.7,381.13 L402.2,381.30 L403.7,381.48 L405.2,381.67 L406.7,381.87 L408.2,382.08 L409.7,382.30 L411.2,382.52 L412.7,382.74 L414.2,382.95 L415.7,383.16 L417.2,383.36 L418.7,383.55 L420.2,383.74 L421.7,383.91 L423.2,384.06 L424.7,384.20 L426.2,384.32 L427.7,384.43 L429.2,384.51 L430.7,384.58 L432.2,384.62 L433.7,384.64 L435.2,384.63 L436.7,384.60 L438.2,384.54 L439.7,384.45 L441.2,384.32 L442.7,384.17 L444.2,383.98 L445.7,383.75 L447.2,383.49 L448.7,383.19 L450.2,382.85 L451.7,382.47 L453.2,382.05 L454.7,381.58 L456.2,381.07 L457.7,380.51 L459.2,379.91 L460.7,379.28 L462.2,378.63 L463.7,377.96 L465.2,377.27 L466.7,376.59 L468.2,375.90 L469.7,375.23 L471.2,374.57 L472.7,373.94 L474.2,373.34 L475.7,372.78 L477.2,372.26 L478.7,371.79 L480.2,371.38 L481.7,371.04 L483.2,370.79 L484.7,370.65 L486.2,370.67 L487.7,370.86 L489.2,371.26 L490.7,371.88 L492.2,372.69 L493.7,373.68 L495.2,374.84 L496.7,376.14 L498.2,377.57 L499.7,379.12 L501.2,380.76 L502.7,382.47 L504.2,384.25 L505.7,386.07 L507.2,387.91 L508.7,389.74 L510.2,391.55 L511.7,393.31 L513.2,394.99 L514.7,396.60 L516.2,398.15 L517.7,399.67 L519.2,401.15 L520.7,402.58 L522.2,403.93 L523.7,405.20 L525.2,406.37 L526.7,407.41 L528.2,408.33 L529.7,409.14 L531.2,409.85 L532.7,410.45 L534.2,410.96 L535.7,411.38 L537.2,411.71 L538.7,411.97 L540.2,412.15 L541.7,412.27 L541.7,412.27 L541.7,412.87 L268.7,412.87 Z" fill="url(#pg)" fill-opacity="1" stroke="none"/>
<path d="M268.7,412.68 L270.2,412.62 L271.7,412.55 L273.2,412.46 L274.7,412.37 L276.2,412.25 L277.7,412.13 L279.2,411.99 L280.7,411.84 L282.2,411.67 L283.7,411.49 L285.2,411.30 L286.7,411.09 L288.2,410.87 L289.7,410.64 L291.2,410.39 L292.7,410.14 L294.2,409.86 L295.7,409.58 L297.2,409.28 L298.7,408.97 L300.2,408.65 L301.7,408.31 L303.2,407.96 L304.7,407.60 L306.2,407.23 L307.7,406.84 L309.2,406.44 L310.7,406.03 L312.2,405.61 L313.7,405.17 L315.2,404.72 L316.7,404.26 L318.2,403.79 L319.7,403.31 L321.2,402.81 L322.7,402.30 L324.2,401.78 L325.7,401.25 L327.2,400.71 L328.7,400.15 L330.2,399.58 L331.7,399.01 L333.2,398.41 L334.7,397.81 L336.2,397.20 L337.7,396.58 L339.2,395.94 L340.7,395.29 L342.2,394.64 L343.7,393.98 L345.2,393.32 L346.7,392.65 L348.2,391.99 L349.7,391.32 L351.2,390.66 L352.7,390.01 L354.2,389.37 L355.7,388.73 L357.2,388.11 L358.7,387.50 L360.2,386.91 L361.7,386.34 L363.2,385.79 L364.7,385.26 L366.2,384.75 L367.7,384.28 L369.2,383.83 L370.7,383.41 L372.2,383.02 L373.7,382.66 L375.2,382.33 L376.7,382.03 L378.2,381.76 L379.7,381.51 L381.2,381.30 L382.7,381.12 L384.2,380.96 L385.7,380.84 L387.2,380.74 L388.7,380.67 L390.2,380.63 L391.7,380.62 L393.2,380.64 L394.7,380.69 L396.2,380.76 L397.7,380.86 L399.2,380.99 L400.7,381.13 L402.2,381.30 L403.7,381.48 L405.2,381.67 L406.7,381.87 L408.2,382.08 L409.7,382.30 L411.2,382.52 L412.7,382.74 L414.2,382.95 L415.7,383.16 L417.2,383.36 L418.7,383.55 L420.2,383.74 L421.7,383.91 L423.2,384.06 L424.7,384.20 L426.2,384.32 L427.7,384.43 L429.2,384.51 L430.7,384.58 L432.2,384.62 L433.7,384.64 L435.2,384.63 L436.7,384.60 L438.2,384.54 L439.7,384.45 L441.2,384.32 L442.7,384.17 L444.2,383.98 L445.7,383.75 L447.2,383.49 L448.7,383.19 L450.2,382.85 L451.7,382.47 L453.2,382.05 L454.7,381.58 L456.2,381.07 L457.7,380.51 L459.2,379.91 L460.7,379.28 L462.2,378.63 L463.7,377.96 L465.2,377.27 L466.7,376.59 L468.2,375.90 L469.7,375.23 L471.2,374.57 L472.7,373.94 L474.2,373.34 L475.7,372.78 L477.2,372.26 L478.7,371.79 L480.2,371.38 L481.7,371.04 L483.2,370.79 L484.7,370.65 L486.2,370.67 L487.7,370.86 L489.2,371.26 L490.7,371.88 L492.2,372.69 L493.7,373.68 L495.2,374.84 L496.7,376.14 L498.2,377.57 L499.7,379.12 L501.2,380.76 L502.7,382.47 L504.2,384.25 L505.7,386.07 L507.2,387.91 L508.7,389.74 L510.2,391.55 L511.7,393.31 L513.2,394.99 L514.7,396.60 L516.2,398.15 L517.7,399.67 L519.2,401.15 L520.7,402.58 L522.2,403.93 L523.7,405.20 L525.2,406.37 L526.7,407.41 L528.2,408.33 L529.7,409.14 L531.2,409.85 L532.7,410.45 L534.2,410.96 L535.7,411.38 L537.2,411.71 L538.7,411.97 L540.2,412.15 L541.7,412.27 L541.7,412.27" fill="none" stroke="#000" stroke-width="1.42" stroke-linejoin="round" stroke-linecap="butt"/>
</g>
<line x1="83.63" x2="87.3" y1="35.95" y2="35.95" stroke="#242424" stroke-width="1.42"/>
<text x="80.7" y="40.70" font-size="11.73" fill="#444444" text-anchor="end">(44.5,45.9]</text>
<line x1="83.63" x2="87.3" y1="77.83" y2="77.83" stroke="#242424" stroke-width="1.42"/>
<text x="80.7" y="82.58" font-size="11.73" fill="#444444" text-anchor="end">(43.1,44.5]</text>
<line x1="83.63" x2="87.3" y1="119.71" y2="119.71" stroke="#242424" stroke-width="1.42"/>
<text x="80.7" y="124.46" font-size="11.73" fill="#444444" text-anchor="end">(41.7,43.1]</text>
<line x1="83.63" x2="87.3" y1="161.59" y2="161.59" stroke="#242424" stroke-width="1.42"/>
<text x="80.7" y="166.34" font-size="11.73" fill="#444444" text-anchor="end">(40.4,41.7]</text>
<line x1="83.63" x2="87.3" y1="203.47" y2="203.47" stroke="#242424" stroke-width="1.42"/>
<text x="80.7" y="208.22" font-size="11.73" fill="#444444" text-anchor="end">(39,40.4]</text>
<line x1="83.63" x2="87.3" y1="245.35" y2="245.35" stroke="#242424" stroke-width="1.42"/>
<text x="80.7" y="250.10" font-size="11.73" fill="#444444" text-anchor="end">(37.6,39]</text>
<line x1="83.63" x2="87.3" y1="287.23" y2="287.23" stroke="#242424" stroke-width="1.42"/>
<text x="80.7" y="291.98" font-size="11.73" fill="#444444" text-anchor="end">(36.3,37.6]</text>
<line x1="83.63" x2="87.3" y1="329.11" y2="329.11" stroke="#242424" stroke-width="1.42"/>
<text x="80.7" y="333.86" font-size="11.73" fill="#444444" text-anchor="end">(34.9,36.3]</text>
<line x1="83.63" x2="87.3" y1="370.99" y2="370.99" stroke="#242424" stroke-width="1.42"/>
<text x="80.7" y="375.74" font-size="11.73" fill="#444444" text-anchor="end">(33.5,34.9]</text>
<line x1="83.63" x2="87.3" y1="412.87" y2="412.87" stroke="#242424" stroke-width="1.42"/>
<text x="80.7" y="417.62" font-size="11.73" fill="#444444" text-anchor="end">(32.1,33.5]</text>
<line x1="164.90" x2="164.90" y1="438.1" y2="441.77" stroke="#242424" stroke-width="1.42"/>
<text x="164.90" y="452.9" font-size="11.73" fill="#444444" text-anchor="middle">0</text>
<line x1="303.34" x2="303.34" y1="438.1" y2="441.77" stroke="#242424" stroke-width="1.42"/>
<text x="303.34" y="452.9" font-size="11.73" fill="#444444" text-anchor="middle">40</text>
<line x1="441.78" x2="441.78" y1="438.1" y2="441.77" stroke="#242424" stroke-width="1.42"/>
<text x="441.78" y="452.9" font-size="11.73" fill="#444444" text-anchor="middle">80</text>
<line x1="580.22" x2="580.22" y1="438.1" y2="441.77" stroke="#242424" stroke-width="1.42"/>
<text x="580.22" y="452.9" font-size="11.73" fill="#444444" text-anchor="middle">120</text>
<text x="339.65" y="469.5" font-size="14.67" fill="#000" text-anchor="middle">Value</text>
<text transform="translate(18.1,222.70) rotate(-90)" font-size="14.67" fill="#000" text-anchor="middle">Group Intervals</text>
<text x="614" y="166.5" font-size="14.67" fill="#000">z</text>
<rect x="614" y="175.45" width="23.04" height="115.2" fill="url(#lg)"/>
<line x1="614" x2="618.6" y1="276.86" y2="276.86" stroke="#fff" stroke-width="0.53"/>
<line x1="632.43" x2="637.04" y1="276.86" y2="276.86" stroke="#fff" stroke-width="0.53"/>
<text x="644.4" y="280.96" font-size="11.73" fill="#000">0</text>
<line x1="614" x2="618.6" y1="242.16" y2="242.16" stroke="#fff" stroke-width="0.53"/>
<line x1="632.43" x2="637.04" y1="242.16" y2="242.16" stroke="#fff" stroke-width="0.53"/>
<text x="644.4" y="246.26" font-size="11.73" fill="#000">40</text>
<line x1="614" x2="618.6" y1="207.46" y2="207.46" stroke="#fff" stroke-width="0.53"/>
<line x1="632.43" x2="637.04" y1="207.46" y2="207.46" stroke="#fff" stroke-width="0.53"/>
<text x="644.4" y="211.56" font-size="11.73" fill="#000">80</text>
</svg></body></html>
